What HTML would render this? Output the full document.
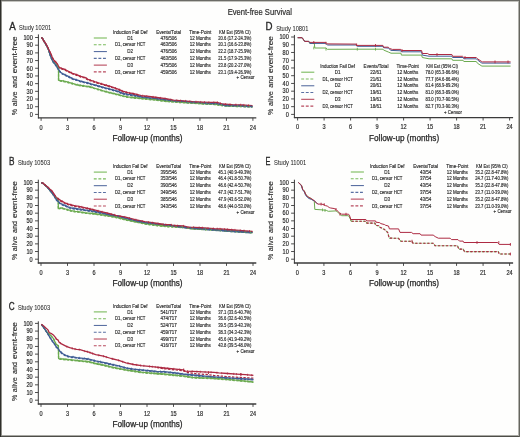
<!DOCTYPE html>
<html><head><meta charset="utf-8"><style>
html,body{margin:0;padding:0;background:#fff;}
body{width:520px;height:437px;overflow:hidden;}
svg{display:block;will-change:transform;}
text{font-family:"Liberation Sans", sans-serif;}
</style></head><body>
<svg width="520" height="437" viewBox="0 0 520 437">
<rect x="0" y="0" width="520" height="437" fill="#fefefd"/>
<text x="9.30" y="29.80" font-size="10.0" text-anchor="start" fill="#2a2a2a" textLength="6.5" lengthAdjust="spacingAndGlyphs" stroke="#222" stroke-width="0.3">A</text>
<text x="19.10" y="30.20" font-size="6.6" text-anchor="start" fill="#2a2a2a" textLength="32.2" lengthAdjust="spacingAndGlyphs" stroke="#2a2a2a" stroke-width="0.05">Study 10201</text>
<text x="0" y="0" font-size="8.0" text-anchor="middle" fill="#2a2a2a" stroke="#2a2a2a" stroke-width="0.14" textLength="6.2" lengthAdjust="spacingAndGlyphs" transform="translate(17.10,112.10) rotate(-90)">%</text>
<text x="0" y="0" font-size="8.0" text-anchor="middle" fill="#2a2a2a" stroke="#2a2a2a" stroke-width="0.14" textLength="14.9" lengthAdjust="spacingAndGlyphs" transform="translate(17.10,98.85) rotate(-90)">alive</text>
<text x="0" y="0" font-size="8.0" text-anchor="middle" fill="#2a2a2a" stroke="#2a2a2a" stroke-width="0.14" textLength="12.1" lengthAdjust="spacingAndGlyphs" transform="translate(17.10,82.05) rotate(-90)">and</text>
<text x="0" y="0" font-size="8.0" text-anchor="middle" fill="#2a2a2a" stroke="#2a2a2a" stroke-width="0.14" textLength="36.8" lengthAdjust="spacingAndGlyphs" transform="translate(17.10,54.80) rotate(-90)">event-free</text>
<line x1="38.40" y1="34.40" x2="38.40" y2="118.40" stroke="#3a3a3a" stroke-width="1.0"/>
<line x1="37.90" y1="117.90" x2="256.30" y2="117.90" stroke="#3a3a3a" stroke-width="1.4"/>
<line x1="35.10" y1="114.40" x2="38.40" y2="114.40" stroke="#3a3a3a" stroke-width="0.9"/>
<text x="32.80" y="116.70" font-size="6.5" text-anchor="end" fill="#2a2a2a" textLength="3.1" lengthAdjust="spacingAndGlyphs" stroke="#2a2a2a" stroke-width="0.18">0</text>
<line x1="35.10" y1="106.71" x2="38.40" y2="106.71" stroke="#3a3a3a" stroke-width="0.9"/>
<text x="32.80" y="109.01" font-size="6.5" text-anchor="end" fill="#2a2a2a" textLength="6.2" lengthAdjust="spacingAndGlyphs" stroke="#2a2a2a" stroke-width="0.18">10</text>
<line x1="35.10" y1="99.02" x2="38.40" y2="99.02" stroke="#3a3a3a" stroke-width="0.9"/>
<text x="32.80" y="101.32" font-size="6.5" text-anchor="end" fill="#2a2a2a" textLength="6.2" lengthAdjust="spacingAndGlyphs" stroke="#2a2a2a" stroke-width="0.18">20</text>
<line x1="35.10" y1="91.33" x2="38.40" y2="91.33" stroke="#3a3a3a" stroke-width="0.9"/>
<text x="32.80" y="93.63" font-size="6.5" text-anchor="end" fill="#2a2a2a" textLength="6.2" lengthAdjust="spacingAndGlyphs" stroke="#2a2a2a" stroke-width="0.18">30</text>
<line x1="35.10" y1="83.64" x2="38.40" y2="83.64" stroke="#3a3a3a" stroke-width="0.9"/>
<text x="32.80" y="85.94" font-size="6.5" text-anchor="end" fill="#2a2a2a" textLength="6.2" lengthAdjust="spacingAndGlyphs" stroke="#2a2a2a" stroke-width="0.18">40</text>
<line x1="35.10" y1="75.95" x2="38.40" y2="75.95" stroke="#3a3a3a" stroke-width="0.9"/>
<text x="32.80" y="78.25" font-size="6.5" text-anchor="end" fill="#2a2a2a" textLength="6.2" lengthAdjust="spacingAndGlyphs" stroke="#2a2a2a" stroke-width="0.18">50</text>
<line x1="35.10" y1="68.26" x2="38.40" y2="68.26" stroke="#3a3a3a" stroke-width="0.9"/>
<text x="32.80" y="70.56" font-size="6.5" text-anchor="end" fill="#2a2a2a" textLength="6.2" lengthAdjust="spacingAndGlyphs" stroke="#2a2a2a" stroke-width="0.18">60</text>
<line x1="35.10" y1="60.57" x2="38.40" y2="60.57" stroke="#3a3a3a" stroke-width="0.9"/>
<text x="32.80" y="62.87" font-size="6.5" text-anchor="end" fill="#2a2a2a" textLength="6.2" lengthAdjust="spacingAndGlyphs" stroke="#2a2a2a" stroke-width="0.18">70</text>
<line x1="35.10" y1="52.88" x2="38.40" y2="52.88" stroke="#3a3a3a" stroke-width="0.9"/>
<text x="32.80" y="55.18" font-size="6.5" text-anchor="end" fill="#2a2a2a" textLength="6.2" lengthAdjust="spacingAndGlyphs" stroke="#2a2a2a" stroke-width="0.18">80</text>
<line x1="35.10" y1="45.19" x2="38.40" y2="45.19" stroke="#3a3a3a" stroke-width="0.9"/>
<text x="32.80" y="47.49" font-size="6.5" text-anchor="end" fill="#2a2a2a" textLength="6.2" lengthAdjust="spacingAndGlyphs" stroke="#2a2a2a" stroke-width="0.18">90</text>
<line x1="35.10" y1="37.50" x2="38.40" y2="37.50" stroke="#3a3a3a" stroke-width="0.9"/>
<text x="32.80" y="39.80" font-size="6.5" text-anchor="end" fill="#2a2a2a" textLength="9.3" lengthAdjust="spacingAndGlyphs" stroke="#2a2a2a" stroke-width="0.18">100</text>
<line x1="41.10" y1="117.90" x2="41.10" y2="120.80" stroke="#3a3a3a" stroke-width="0.9"/>
<text x="41.10" y="129.60" font-size="6.5" text-anchor="middle" fill="#2a2a2a" textLength="3.1" lengthAdjust="spacingAndGlyphs" stroke="#2a2a2a" stroke-width="0.18">0</text>
<line x1="67.58" y1="117.90" x2="67.58" y2="120.80" stroke="#3a3a3a" stroke-width="0.9"/>
<text x="67.58" y="129.60" font-size="6.5" text-anchor="middle" fill="#2a2a2a" textLength="3.1" lengthAdjust="spacingAndGlyphs" stroke="#2a2a2a" stroke-width="0.18">3</text>
<line x1="94.05" y1="117.90" x2="94.05" y2="120.80" stroke="#3a3a3a" stroke-width="0.9"/>
<text x="94.05" y="129.60" font-size="6.5" text-anchor="middle" fill="#2a2a2a" textLength="3.1" lengthAdjust="spacingAndGlyphs" stroke="#2a2a2a" stroke-width="0.18">6</text>
<line x1="120.53" y1="117.90" x2="120.53" y2="120.80" stroke="#3a3a3a" stroke-width="0.9"/>
<text x="120.53" y="129.60" font-size="6.5" text-anchor="middle" fill="#2a2a2a" textLength="3.1" lengthAdjust="spacingAndGlyphs" stroke="#2a2a2a" stroke-width="0.18">9</text>
<line x1="147.00" y1="117.90" x2="147.00" y2="120.80" stroke="#3a3a3a" stroke-width="0.9"/>
<text x="147.00" y="129.60" font-size="6.5" text-anchor="middle" fill="#2a2a2a" textLength="6.2" lengthAdjust="spacingAndGlyphs" stroke="#2a2a2a" stroke-width="0.18">12</text>
<line x1="173.47" y1="117.90" x2="173.47" y2="120.80" stroke="#3a3a3a" stroke-width="0.9"/>
<text x="173.47" y="129.60" font-size="6.5" text-anchor="middle" fill="#2a2a2a" textLength="6.2" lengthAdjust="spacingAndGlyphs" stroke="#2a2a2a" stroke-width="0.18">15</text>
<line x1="199.95" y1="117.90" x2="199.95" y2="120.80" stroke="#3a3a3a" stroke-width="0.9"/>
<text x="199.95" y="129.60" font-size="6.5" text-anchor="middle" fill="#2a2a2a" textLength="6.2" lengthAdjust="spacingAndGlyphs" stroke="#2a2a2a" stroke-width="0.18">18</text>
<line x1="226.43" y1="117.90" x2="226.43" y2="120.80" stroke="#3a3a3a" stroke-width="0.9"/>
<text x="226.43" y="129.60" font-size="6.5" text-anchor="middle" fill="#2a2a2a" textLength="6.2" lengthAdjust="spacingAndGlyphs" stroke="#2a2a2a" stroke-width="0.18">21</text>
<line x1="252.90" y1="117.90" x2="252.90" y2="120.80" stroke="#3a3a3a" stroke-width="0.9"/>
<text x="252.90" y="129.60" font-size="6.5" text-anchor="middle" fill="#2a2a2a" textLength="6.2" lengthAdjust="spacingAndGlyphs" stroke="#2a2a2a" stroke-width="0.18">24</text>
<text x="147.50" y="140.80" font-size="8.6" text-anchor="middle" fill="#2a2a2a" textLength="70.2" lengthAdjust="spacingAndGlyphs" stroke="#222" stroke-width="0.25">Follow-up (months)</text>
<path d="M41.40,37.40 L42.70,38.90 L44.80,42.62 L46.90,46.29 L48.90,50.75 L49.70,53.38 L51.40,58.03 L53.10,61.78 L55.40,64.16 L57.20,66.31 L58.55,67.75 L58.55,80.65 L60.10,81.00 L62.90,81.40 L66.30,82.10 L69.70,83.10 L73.20,84.10 L76.60,85.10 L80.70,85.80 L84.80,86.50 L88.00,86.90 L91.00,87.50 L95.70,89.00 L103.40,91.30 L111.10,93.30 L118.80,95.20 L122.60,96.30 L128.00,97.40 L133.70,98.00 L141.40,98.80 L149.10,99.60 L156.80,100.30 L166.00,101.50 L173.60,102.10 L183.20,102.80 L192.80,103.30 L202.50,104.00 L214.00,104.50 L225.90,106.20 L236.50,106.50 L252.50,107.00" fill="none" stroke="#6cab50" stroke-width="1.3" stroke-linejoin="round" stroke-dasharray="2.4,1.4"/>
<path d="M41.40,37.40 L42.70,38.90 L44.80,42.63 L46.90,46.31 L48.90,50.78 L49.70,53.91 L51.40,58.58 L53.10,62.04 L55.40,65.03 L56.50,66.47 L58.00,69.12 L59.40,71.18 L60.50,72.80 L62.50,74.10 L66.30,76.00 L69.70,77.70 L73.20,79.40 L76.60,80.40 L80.70,81.80 L84.80,82.80 L88.00,83.50 L91.00,84.60 L95.70,85.70 L103.40,88.00 L111.10,89.90 L118.80,92.20 L122.60,93.90 L128.00,95.00 L133.70,95.80 L141.40,97.40 L149.10,98.50 L156.80,99.30 L166.00,100.40 L173.60,101.40 L183.20,102.00 L192.80,102.80 L202.50,103.40 L210.00,104.00 L217.10,104.20 L225.90,105.90 L236.50,106.20 L252.50,106.90" fill="none" stroke="#3f5c95" stroke-width="1.3" stroke-linejoin="round" stroke-dasharray="2.4,1.4"/>
<path d="M41.40,37.40 L42.70,38.70 L43.40,40.50 L44.80,42.23 L46.90,45.71 L48.90,49.88 L50.30,52.84 L52.00,56.90 L53.70,60.36 L56.00,62.65 L57.40,64.60 L58.70,67.35 L60.80,68.80 L64.20,69.80 L68.40,71.90 L72.50,73.90 L76.60,75.30 L80.70,77.00 L84.80,78.00 L88.00,79.90 L91.00,81.00 L95.70,82.60 L103.40,84.90 L111.10,87.20 L118.80,89.90 L122.60,91.80 L128.00,93.30 L133.70,94.30 L141.40,96.20 L149.10,97.00 L156.80,98.10 L166.00,99.30 L173.60,100.80 L183.20,101.40 L192.80,102.20 L202.50,102.70 L210.00,103.00 L217.10,103.00 L222.40,104.60 L232.10,105.20 L241.00,105.40 L252.50,106.30" fill="none" stroke="#ad2a42" stroke-width="1.3" stroke-linejoin="round" stroke-dasharray="2.4,1.4"/>
<path d="M41.40,37.40 L42.70,38.90 L44.80,42.60 L46.90,46.20 L48.90,50.60 L49.70,53.20 L51.40,57.80 L53.10,61.50 L55.40,63.80 L57.20,65.90 L58.55,67.30 L58.55,80.20 L60.10,80.50 L62.90,80.90 L66.30,81.60 L69.70,82.60 L73.20,83.60 L76.60,84.60 L80.70,85.30 L84.80,86.00 L88.00,86.40 L91.00,87.00 L95.70,88.50 L103.40,90.80 L111.10,92.80 L118.80,94.70 L122.60,95.80 L128.00,96.90 L133.70,97.50 L141.40,98.30 L149.10,99.10 L156.80,99.80 L166.00,101.00 L173.60,101.60 L183.20,102.30 L192.80,102.80 L202.50,103.50 L214.00,104.00 L225.90,105.70 L236.50,106.00 L252.50,106.50" fill="none" stroke="#6cab50" stroke-width="1.3" stroke-linejoin="round"/>
<path d="M41.40,37.40 L42.70,38.90 L44.80,42.60 L46.90,46.20 L48.90,50.60 L49.70,53.70 L51.40,58.30 L53.10,61.70 L55.40,64.60 L56.50,66.00 L58.00,68.60 L59.40,70.60 L60.50,72.20 L62.50,73.50 L66.30,75.40 L69.70,77.10 L73.20,78.80 L76.60,79.80 L80.70,81.20 L84.80,82.20 L88.00,82.90 L91.00,84.00 L95.70,85.10 L103.40,87.40 L111.10,89.30 L118.80,91.60 L122.60,93.30 L128.00,94.40 L133.70,95.20 L141.40,96.80 L149.10,97.90 L156.80,98.70 L166.00,99.80 L173.60,100.80 L183.20,101.40 L192.80,102.20 L202.50,102.80 L210.00,103.40 L217.10,103.60 L225.90,105.30 L236.50,105.60 L252.50,106.30" fill="none" stroke="#3f5c95" stroke-width="1.3" stroke-linejoin="round"/>
<path d="M41.40,37.40 L42.70,38.70 L43.40,40.50 L44.80,42.20 L46.90,45.60 L48.90,49.70 L50.30,52.60 L52.00,56.60 L53.70,60.00 L56.00,62.20 L57.40,64.10 L58.70,66.80 L60.80,68.20 L64.20,69.20 L68.40,71.30 L72.50,73.30 L76.60,74.70 L80.70,76.40 L84.80,77.40 L88.00,79.30 L91.00,80.40 L95.70,82.00 L103.40,84.30 L111.10,86.60 L118.80,89.30 L122.60,91.20 L128.00,92.70 L133.70,93.70 L141.40,95.60 L149.10,96.40 L156.80,97.50 L166.00,98.70 L173.60,100.20 L183.20,100.80 L192.80,101.60 L202.50,102.10 L210.00,102.40 L217.10,102.40 L222.40,104.00 L232.10,104.60 L241.00,104.80 L252.50,105.70" fill="none" stroke="#ad2a42" stroke-width="1.3" stroke-linejoin="round"/>
<line x1="57.33" y1="64.94" x2="57.33" y2="67.14" stroke="#6cab50" stroke-width="0.7"/>
<line x1="63.47" y1="79.92" x2="63.47" y2="82.12" stroke="#6cab50" stroke-width="0.7"/>
<line x1="68.25" y1="81.07" x2="68.25" y2="83.27" stroke="#6cab50" stroke-width="0.7"/>
<line x1="72.20" y1="82.21" x2="72.20" y2="84.41" stroke="#6cab50" stroke-width="0.7"/>
<line x1="77.53" y1="83.66" x2="77.53" y2="85.86" stroke="#6cab50" stroke-width="0.7"/>
<line x1="80.28" y1="84.13" x2="80.28" y2="86.33" stroke="#6cab50" stroke-width="0.7"/>
<line x1="83.39" y1="84.66" x2="83.39" y2="86.86" stroke="#6cab50" stroke-width="0.7"/>
<line x1="89.01" y1="85.50" x2="89.01" y2="87.70" stroke="#6cab50" stroke-width="0.7"/>
<line x1="92.22" y1="86.29" x2="92.22" y2="88.49" stroke="#6cab50" stroke-width="0.7"/>
<line x1="98.02" y1="88.09" x2="98.02" y2="90.29" stroke="#6cab50" stroke-width="0.7"/>
<line x1="100.93" y1="88.96" x2="100.93" y2="91.16" stroke="#6cab50" stroke-width="0.7"/>
<line x1="106.44" y1="90.49" x2="106.44" y2="92.69" stroke="#6cab50" stroke-width="0.7"/>
<line x1="110.81" y1="91.62" x2="110.81" y2="93.82" stroke="#6cab50" stroke-width="0.7"/>
<line x1="114.09" y1="92.44" x2="114.09" y2="94.64" stroke="#6cab50" stroke-width="0.7"/>
<line x1="118.42" y1="93.51" x2="118.42" y2="95.71" stroke="#6cab50" stroke-width="0.7"/>
<line x1="123.27" y1="94.84" x2="123.27" y2="97.04" stroke="#6cab50" stroke-width="0.7"/>
<line x1="126.25" y1="95.44" x2="126.25" y2="97.64" stroke="#6cab50" stroke-width="0.7"/>
<line x1="132.14" y1="96.24" x2="132.14" y2="98.44" stroke="#6cab50" stroke-width="0.7"/>
<line x1="135.09" y1="96.54" x2="135.09" y2="98.74" stroke="#6cab50" stroke-width="0.7"/>
<line x1="140.18" y1="97.07" x2="140.18" y2="99.27" stroke="#6cab50" stroke-width="0.7"/>
<line x1="145.34" y1="97.61" x2="145.34" y2="99.81" stroke="#6cab50" stroke-width="0.7"/>
<line x1="151.18" y1="98.19" x2="151.18" y2="100.39" stroke="#6cab50" stroke-width="0.7"/>
<line x1="156.23" y1="98.65" x2="156.23" y2="100.85" stroke="#6cab50" stroke-width="0.7"/>
<line x1="162.03" y1="99.38" x2="162.03" y2="101.58" stroke="#6cab50" stroke-width="0.7"/>
<line x1="166.78" y1="99.96" x2="166.78" y2="102.16" stroke="#6cab50" stroke-width="0.7"/>
<line x1="171.64" y1="100.34" x2="171.64" y2="102.54" stroke="#6cab50" stroke-width="0.7"/>
<line x1="176.19" y1="100.69" x2="176.19" y2="102.89" stroke="#6cab50" stroke-width="0.7"/>
<line x1="180.35" y1="100.99" x2="180.35" y2="103.19" stroke="#6cab50" stroke-width="0.7"/>
<line x1="185.96" y1="101.34" x2="185.96" y2="103.54" stroke="#6cab50" stroke-width="0.7"/>
<line x1="190.25" y1="101.57" x2="190.25" y2="103.77" stroke="#6cab50" stroke-width="0.7"/>
<line x1="193.78" y1="101.77" x2="193.78" y2="103.97" stroke="#6cab50" stroke-width="0.7"/>
<line x1="198.16" y1="102.09" x2="198.16" y2="104.29" stroke="#6cab50" stroke-width="0.7"/>
<line x1="201.34" y1="102.32" x2="201.34" y2="104.52" stroke="#6cab50" stroke-width="0.7"/>
<line x1="206.21" y1="102.56" x2="206.21" y2="104.76" stroke="#6cab50" stroke-width="0.7"/>
<line x1="209.71" y1="102.71" x2="209.71" y2="104.91" stroke="#6cab50" stroke-width="0.7"/>
<line x1="215.38" y1="103.10" x2="215.38" y2="105.30" stroke="#6cab50" stroke-width="0.7"/>
<line x1="221.37" y1="103.95" x2="221.37" y2="106.15" stroke="#6cab50" stroke-width="0.7"/>
<line x1="227.62" y1="104.65" x2="227.62" y2="106.85" stroke="#6cab50" stroke-width="0.7"/>
<line x1="231.75" y1="104.77" x2="231.75" y2="106.97" stroke="#6cab50" stroke-width="0.7"/>
<line x1="237.71" y1="104.94" x2="237.71" y2="107.14" stroke="#6cab50" stroke-width="0.7"/>
<line x1="240.63" y1="105.03" x2="240.63" y2="107.23" stroke="#6cab50" stroke-width="0.7"/>
<line x1="245.00" y1="105.17" x2="245.00" y2="107.37" stroke="#6cab50" stroke-width="0.7"/>
<line x1="249.24" y1="105.30" x2="249.24" y2="107.50" stroke="#6cab50" stroke-width="0.7"/>
<line x1="56.75" y1="65.34" x2="56.75" y2="67.54" stroke="#3f5c95" stroke-width="0.7"/>
<line x1="60.38" y1="70.93" x2="60.38" y2="73.13" stroke="#3f5c95" stroke-width="0.7"/>
<line x1="65.12" y1="73.71" x2="65.12" y2="75.91" stroke="#3f5c95" stroke-width="0.7"/>
<line x1="69.25" y1="75.77" x2="69.25" y2="77.97" stroke="#3f5c95" stroke-width="0.7"/>
<line x1="71.76" y1="77.00" x2="71.76" y2="79.20" stroke="#3f5c95" stroke-width="0.7"/>
<line x1="76.17" y1="78.57" x2="76.17" y2="80.77" stroke="#3f5c95" stroke-width="0.7"/>
<line x1="81.78" y1="80.36" x2="81.78" y2="82.56" stroke="#3f5c95" stroke-width="0.7"/>
<line x1="87.75" y1="81.75" x2="87.75" y2="83.95" stroke="#3f5c95" stroke-width="0.7"/>
<line x1="90.43" y1="82.69" x2="90.43" y2="84.89" stroke="#3f5c95" stroke-width="0.7"/>
<line x1="96.09" y1="84.12" x2="96.09" y2="86.32" stroke="#3f5c95" stroke-width="0.7"/>
<line x1="99.44" y1="85.12" x2="99.44" y2="87.32" stroke="#3f5c95" stroke-width="0.7"/>
<line x1="103.05" y1="86.19" x2="103.05" y2="88.39" stroke="#3f5c95" stroke-width="0.7"/>
<line x1="108.94" y1="87.67" x2="108.94" y2="89.87" stroke="#3f5c95" stroke-width="0.7"/>
<line x1="113.11" y1="88.80" x2="113.11" y2="91.00" stroke="#3f5c95" stroke-width="0.7"/>
<line x1="117.87" y1="90.22" x2="117.87" y2="92.42" stroke="#3f5c95" stroke-width="0.7"/>
<line x1="121.09" y1="91.53" x2="121.09" y2="93.73" stroke="#3f5c95" stroke-width="0.7"/>
<line x1="123.70" y1="92.42" x2="123.70" y2="94.62" stroke="#3f5c95" stroke-width="0.7"/>
<line x1="126.49" y1="92.99" x2="126.49" y2="95.19" stroke="#3f5c95" stroke-width="0.7"/>
<line x1="131.83" y1="93.84" x2="131.83" y2="96.04" stroke="#3f5c95" stroke-width="0.7"/>
<line x1="137.35" y1="94.86" x2="137.35" y2="97.06" stroke="#3f5c95" stroke-width="0.7"/>
<line x1="140.09" y1="95.43" x2="140.09" y2="97.63" stroke="#3f5c95" stroke-width="0.7"/>
<line x1="146.05" y1="96.36" x2="146.05" y2="98.56" stroke="#3f5c95" stroke-width="0.7"/>
<line x1="150.64" y1="96.96" x2="150.64" y2="99.16" stroke="#3f5c95" stroke-width="0.7"/>
<line x1="157.06" y1="97.63" x2="157.06" y2="99.83" stroke="#3f5c95" stroke-width="0.7"/>
<line x1="160.27" y1="98.02" x2="160.27" y2="100.22" stroke="#3f5c95" stroke-width="0.7"/>
<line x1="165.12" y1="98.60" x2="165.12" y2="100.80" stroke="#3f5c95" stroke-width="0.7"/>
<line x1="170.30" y1="99.27" x2="170.30" y2="101.47" stroke="#3f5c95" stroke-width="0.7"/>
<line x1="175.89" y1="99.84" x2="175.89" y2="102.04" stroke="#3f5c95" stroke-width="0.7"/>
<line x1="181.58" y1="100.20" x2="181.58" y2="102.40" stroke="#3f5c95" stroke-width="0.7"/>
<line x1="186.43" y1="100.57" x2="186.43" y2="102.77" stroke="#3f5c95" stroke-width="0.7"/>
<line x1="190.82" y1="100.93" x2="190.82" y2="103.13" stroke="#3f5c95" stroke-width="0.7"/>
<line x1="194.03" y1="101.18" x2="194.03" y2="103.38" stroke="#3f5c95" stroke-width="0.7"/>
<line x1="200.19" y1="101.56" x2="200.19" y2="103.76" stroke="#3f5c95" stroke-width="0.7"/>
<line x1="205.60" y1="101.95" x2="205.60" y2="104.15" stroke="#3f5c95" stroke-width="0.7"/>
<line x1="208.74" y1="102.20" x2="208.74" y2="104.40" stroke="#3f5c95" stroke-width="0.7"/>
<line x1="213.68" y1="102.40" x2="213.68" y2="104.60" stroke="#3f5c95" stroke-width="0.7"/>
<line x1="219.26" y1="102.92" x2="219.26" y2="105.12" stroke="#3f5c95" stroke-width="0.7"/>
<line x1="222.58" y1="103.56" x2="222.58" y2="105.76" stroke="#3f5c95" stroke-width="0.7"/>
<line x1="227.34" y1="104.24" x2="227.34" y2="106.44" stroke="#3f5c95" stroke-width="0.7"/>
<line x1="233.02" y1="104.40" x2="233.02" y2="106.60" stroke="#3f5c95" stroke-width="0.7"/>
<line x1="235.91" y1="104.48" x2="235.91" y2="106.68" stroke="#3f5c95" stroke-width="0.7"/>
<line x1="238.99" y1="104.61" x2="238.99" y2="106.81" stroke="#3f5c95" stroke-width="0.7"/>
<line x1="242.73" y1="104.77" x2="242.73" y2="106.97" stroke="#3f5c95" stroke-width="0.7"/>
<line x1="246.49" y1="104.94" x2="246.49" y2="107.14" stroke="#3f5c95" stroke-width="0.7"/>
<line x1="250.89" y1="105.13" x2="250.89" y2="107.33" stroke="#3f5c95" stroke-width="0.7"/>
<line x1="55.70" y1="60.82" x2="55.70" y2="63.02" stroke="#ad2a42" stroke-width="0.7"/>
<line x1="61.25" y1="67.23" x2="61.25" y2="69.43" stroke="#ad2a42" stroke-width="0.7"/>
<line x1="65.36" y1="68.68" x2="65.36" y2="70.88" stroke="#ad2a42" stroke-width="0.7"/>
<line x1="71.39" y1="71.66" x2="71.39" y2="73.86" stroke="#ad2a42" stroke-width="0.7"/>
<line x1="76.73" y1="73.66" x2="76.73" y2="75.86" stroke="#ad2a42" stroke-width="0.7"/>
<line x1="80.65" y1="75.28" x2="80.65" y2="77.48" stroke="#ad2a42" stroke-width="0.7"/>
<line x1="86.59" y1="77.37" x2="86.59" y2="79.57" stroke="#ad2a42" stroke-width="0.7"/>
<line x1="90.15" y1="78.99" x2="90.15" y2="81.19" stroke="#ad2a42" stroke-width="0.7"/>
<line x1="93.70" y1="80.22" x2="93.70" y2="82.42" stroke="#ad2a42" stroke-width="0.7"/>
<line x1="96.70" y1="81.20" x2="96.70" y2="83.40" stroke="#ad2a42" stroke-width="0.7"/>
<line x1="101.66" y1="82.68" x2="101.66" y2="84.88" stroke="#ad2a42" stroke-width="0.7"/>
<line x1="106.52" y1="84.13" x2="106.52" y2="86.33" stroke="#ad2a42" stroke-width="0.7"/>
<line x1="109.36" y1="84.98" x2="109.36" y2="87.18" stroke="#ad2a42" stroke-width="0.7"/>
<line x1="115.49" y1="87.04" x2="115.49" y2="89.24" stroke="#ad2a42" stroke-width="0.7"/>
<line x1="119.63" y1="88.62" x2="119.63" y2="90.82" stroke="#ad2a42" stroke-width="0.7"/>
<line x1="122.27" y1="89.93" x2="122.27" y2="92.13" stroke="#ad2a42" stroke-width="0.7"/>
<line x1="126.32" y1="91.13" x2="126.32" y2="93.33" stroke="#ad2a42" stroke-width="0.7"/>
<line x1="129.29" y1="91.83" x2="129.29" y2="94.03" stroke="#ad2a42" stroke-width="0.7"/>
<line x1="133.05" y1="92.49" x2="133.05" y2="94.69" stroke="#ad2a42" stroke-width="0.7"/>
<line x1="136.99" y1="93.41" x2="136.99" y2="95.61" stroke="#ad2a42" stroke-width="0.7"/>
<line x1="142.71" y1="94.64" x2="142.71" y2="96.84" stroke="#ad2a42" stroke-width="0.7"/>
<line x1="146.77" y1="95.06" x2="146.77" y2="97.26" stroke="#ad2a42" stroke-width="0.7"/>
<line x1="153.12" y1="95.87" x2="153.12" y2="98.07" stroke="#ad2a42" stroke-width="0.7"/>
<line x1="155.87" y1="96.27" x2="155.87" y2="98.47" stroke="#ad2a42" stroke-width="0.7"/>
<line x1="160.57" y1="96.89" x2="160.57" y2="99.09" stroke="#ad2a42" stroke-width="0.7"/>
<line x1="165.05" y1="97.48" x2="165.05" y2="99.68" stroke="#ad2a42" stroke-width="0.7"/>
<line x1="170.80" y1="98.55" x2="170.80" y2="100.75" stroke="#ad2a42" stroke-width="0.7"/>
<line x1="176.79" y1="99.30" x2="176.79" y2="101.50" stroke="#ad2a42" stroke-width="0.7"/>
<line x1="180.61" y1="99.54" x2="180.61" y2="101.74" stroke="#ad2a42" stroke-width="0.7"/>
<line x1="185.55" y1="99.90" x2="185.55" y2="102.10" stroke="#ad2a42" stroke-width="0.7"/>
<line x1="189.85" y1="100.25" x2="189.85" y2="102.45" stroke="#ad2a42" stroke-width="0.7"/>
<line x1="195.95" y1="100.66" x2="195.95" y2="102.86" stroke="#ad2a42" stroke-width="0.7"/>
<line x1="200.77" y1="100.91" x2="200.77" y2="103.11" stroke="#ad2a42" stroke-width="0.7"/>
<line x1="204.49" y1="101.08" x2="204.49" y2="103.28" stroke="#ad2a42" stroke-width="0.7"/>
<line x1="208.87" y1="101.25" x2="208.87" y2="103.45" stroke="#ad2a42" stroke-width="0.7"/>
<line x1="213.81" y1="101.30" x2="213.81" y2="103.50" stroke="#ad2a42" stroke-width="0.7"/>
<line x1="217.51" y1="101.42" x2="217.51" y2="103.62" stroke="#ad2a42" stroke-width="0.7"/>
<line x1="220.49" y1="102.32" x2="220.49" y2="104.52" stroke="#ad2a42" stroke-width="0.7"/>
<line x1="225.55" y1="103.09" x2="225.55" y2="105.29" stroke="#ad2a42" stroke-width="0.7"/>
<line x1="230.01" y1="103.37" x2="230.01" y2="105.57" stroke="#ad2a42" stroke-width="0.7"/>
<line x1="235.87" y1="103.58" x2="235.87" y2="105.78" stroke="#ad2a42" stroke-width="0.7"/>
<line x1="240.67" y1="103.69" x2="240.67" y2="105.89" stroke="#ad2a42" stroke-width="0.7"/>
<line x1="243.89" y1="103.93" x2="243.89" y2="106.13" stroke="#ad2a42" stroke-width="0.7"/>
<line x1="248.59" y1="104.29" x2="248.59" y2="106.49" stroke="#ad2a42" stroke-width="0.7"/>
<text x="130.20" y="33.80" font-size="4.5" text-anchor="middle" fill="#2a2a2a" textLength="34.6" lengthAdjust="spacingAndGlyphs" stroke="#2a2a2a" stroke-width="0.14">Induction Fail Def</text>
<text x="168.60" y="33.80" font-size="4.5" text-anchor="middle" fill="#2a2a2a" textLength="24.8" lengthAdjust="spacingAndGlyphs" stroke="#2a2a2a" stroke-width="0.14">Events/Total</text>
<text x="200.30" y="33.80" font-size="4.5" text-anchor="middle" fill="#2a2a2a" textLength="22.2" lengthAdjust="spacingAndGlyphs" stroke="#2a2a2a" stroke-width="0.14">Time-Point</text>
<text x="234.80" y="33.80" font-size="4.5" text-anchor="middle" fill="#2a2a2a" textLength="31.7" lengthAdjust="spacingAndGlyphs" stroke="#2a2a2a" stroke-width="0.14">KM Est (95% CI)</text>
<line x1="93.80" y1="38.00" x2="106.90" y2="38.00" stroke="#7aba5c" stroke-width="1.1"/>
<text x="130.20" y="39.60" font-size="4.5" text-anchor="middle" fill="#2a2a2a" stroke="#2a2a2a" stroke-width="0.14">D1</text>
<text x="168.60" y="39.60" font-size="4.5" text-anchor="middle" fill="#2a2a2a" stroke="#2a2a2a" stroke-width="0.14">476/506</text>
<text x="200.30" y="39.60" font-size="4.5" text-anchor="middle" fill="#2a2a2a" textLength="21.1" lengthAdjust="spacingAndGlyphs" stroke="#2a2a2a" stroke-width="0.14">12 Months</text>
<text x="234.80" y="39.60" font-size="4.5" text-anchor="middle" fill="#2a2a2a" textLength="33.2" lengthAdjust="spacingAndGlyphs" stroke="#2a2a2a" stroke-width="0.14">20.6 (17.2-24.3%)</text>
<line x1="93.80" y1="44.78" x2="106.90" y2="44.78" stroke="#7aba5c" stroke-width="1.1" stroke-dasharray="2.9,1.7"/>
<text x="130.20" y="46.38" font-size="4.5" text-anchor="middle" fill="#2a2a2a" textLength="30.4" lengthAdjust="spacingAndGlyphs" stroke="#2a2a2a" stroke-width="0.14">D1, censor HCT</text>
<text x="168.60" y="46.38" font-size="4.5" text-anchor="middle" fill="#2a2a2a" stroke="#2a2a2a" stroke-width="0.14">463/506</text>
<text x="200.30" y="46.38" font-size="4.5" text-anchor="middle" fill="#2a2a2a" textLength="21.1" lengthAdjust="spacingAndGlyphs" stroke="#2a2a2a" stroke-width="0.14">12 Months</text>
<text x="234.80" y="46.38" font-size="4.5" text-anchor="middle" fill="#2a2a2a" textLength="33.2" lengthAdjust="spacingAndGlyphs" stroke="#2a2a2a" stroke-width="0.14">20.1 (16.6-23.8%)</text>
<line x1="93.80" y1="51.56" x2="106.90" y2="51.56" stroke="#5a70a2" stroke-width="1.1"/>
<text x="130.20" y="53.16" font-size="4.5" text-anchor="middle" fill="#2a2a2a" stroke="#2a2a2a" stroke-width="0.14">D2</text>
<text x="168.60" y="53.16" font-size="4.5" text-anchor="middle" fill="#2a2a2a" stroke="#2a2a2a" stroke-width="0.14">476/506</text>
<text x="200.30" y="53.16" font-size="4.5" text-anchor="middle" fill="#2a2a2a" textLength="21.1" lengthAdjust="spacingAndGlyphs" stroke="#2a2a2a" stroke-width="0.14">12 Months</text>
<text x="234.80" y="53.16" font-size="4.5" text-anchor="middle" fill="#2a2a2a" textLength="33.2" lengthAdjust="spacingAndGlyphs" stroke="#2a2a2a" stroke-width="0.14">22.2 (18.7-25.9%)</text>
<line x1="93.80" y1="58.34" x2="106.90" y2="58.34" stroke="#5a70a2" stroke-width="1.1" stroke-dasharray="2.9,1.7"/>
<text x="130.20" y="59.94" font-size="4.5" text-anchor="middle" fill="#2a2a2a" textLength="30.4" lengthAdjust="spacingAndGlyphs" stroke="#2a2a2a" stroke-width="0.14">D2, censor HCT</text>
<text x="168.60" y="59.94" font-size="4.5" text-anchor="middle" fill="#2a2a2a" stroke="#2a2a2a" stroke-width="0.14">463/506</text>
<text x="200.30" y="59.94" font-size="4.5" text-anchor="middle" fill="#2a2a2a" textLength="21.1" lengthAdjust="spacingAndGlyphs" stroke="#2a2a2a" stroke-width="0.14">12 Months</text>
<text x="234.80" y="59.94" font-size="4.5" text-anchor="middle" fill="#2a2a2a" textLength="33.2" lengthAdjust="spacingAndGlyphs" stroke="#2a2a2a" stroke-width="0.14">21.5 (17.9-25.3%)</text>
<line x1="93.80" y1="65.12" x2="106.90" y2="65.12" stroke="#b84a5e" stroke-width="1.1"/>
<text x="130.20" y="66.72" font-size="4.5" text-anchor="middle" fill="#2a2a2a" stroke="#2a2a2a" stroke-width="0.14">D3</text>
<text x="168.60" y="66.72" font-size="4.5" text-anchor="middle" fill="#2a2a2a" stroke="#2a2a2a" stroke-width="0.14">475/506</text>
<text x="200.30" y="66.72" font-size="4.5" text-anchor="middle" fill="#2a2a2a" textLength="21.1" lengthAdjust="spacingAndGlyphs" stroke="#2a2a2a" stroke-width="0.14">12 Months</text>
<text x="234.80" y="66.72" font-size="4.5" text-anchor="middle" fill="#2a2a2a" textLength="33.2" lengthAdjust="spacingAndGlyphs" stroke="#2a2a2a" stroke-width="0.14">23.8 (20.2-27.0%)</text>
<line x1="93.80" y1="71.90" x2="106.90" y2="71.90" stroke="#b84a5e" stroke-width="1.1" stroke-dasharray="2.9,1.7"/>
<text x="130.20" y="73.50" font-size="4.5" text-anchor="middle" fill="#2a2a2a" textLength="30.4" lengthAdjust="spacingAndGlyphs" stroke="#2a2a2a" stroke-width="0.14">D3, censor HCT</text>
<text x="168.60" y="73.50" font-size="4.5" text-anchor="middle" fill="#2a2a2a" stroke="#2a2a2a" stroke-width="0.14">459/506</text>
<text x="200.30" y="73.50" font-size="4.5" text-anchor="middle" fill="#2a2a2a" textLength="21.1" lengthAdjust="spacingAndGlyphs" stroke="#2a2a2a" stroke-width="0.14">12 Months</text>
<text x="234.80" y="73.50" font-size="4.5" text-anchor="middle" fill="#2a2a2a" textLength="33.2" lengthAdjust="spacingAndGlyphs" stroke="#2a2a2a" stroke-width="0.14">23.1 (19.4-26.9%)</text>
<text x="254.60" y="79.20" font-size="4.5" text-anchor="end" fill="#2a2a2a" textLength="18.0" lengthAdjust="spacingAndGlyphs" stroke="#2a2a2a" stroke-width="0.14">+ Censor</text>
<text x="9.10" y="164.90" font-size="10.0" text-anchor="start" fill="#2a2a2a" textLength="5.5" lengthAdjust="spacingAndGlyphs" stroke="#222" stroke-width="0.3">B</text>
<text x="17.90" y="165.30" font-size="6.6" text-anchor="start" fill="#2a2a2a" textLength="32.2" lengthAdjust="spacingAndGlyphs" stroke="#2a2a2a" stroke-width="0.05">Study 10503</text>
<text x="0" y="0" font-size="8.0" text-anchor="middle" fill="#2a2a2a" stroke="#2a2a2a" stroke-width="0.14" textLength="6.2" lengthAdjust="spacingAndGlyphs" transform="translate(17.00,257.00) rotate(-90)">%</text>
<text x="0" y="0" font-size="8.0" text-anchor="middle" fill="#2a2a2a" stroke="#2a2a2a" stroke-width="0.14" textLength="14.9" lengthAdjust="spacingAndGlyphs" transform="translate(17.00,243.75) rotate(-90)">alive</text>
<text x="0" y="0" font-size="8.0" text-anchor="middle" fill="#2a2a2a" stroke="#2a2a2a" stroke-width="0.14" textLength="12.1" lengthAdjust="spacingAndGlyphs" transform="translate(17.00,226.95) rotate(-90)">and</text>
<text x="0" y="0" font-size="8.0" text-anchor="middle" fill="#2a2a2a" stroke="#2a2a2a" stroke-width="0.14" textLength="36.8" lengthAdjust="spacingAndGlyphs" transform="translate(17.00,199.70) rotate(-90)">event-free</text>
<line x1="38.30" y1="179.70" x2="38.30" y2="263.50" stroke="#3a3a3a" stroke-width="1.0"/>
<line x1="37.80" y1="263.00" x2="256.30" y2="263.00" stroke="#3a3a3a" stroke-width="1.4"/>
<line x1="35.00" y1="259.20" x2="38.30" y2="259.20" stroke="#3a3a3a" stroke-width="0.9"/>
<text x="32.70" y="261.50" font-size="6.5" text-anchor="end" fill="#2a2a2a" textLength="3.1" lengthAdjust="spacingAndGlyphs" stroke="#2a2a2a" stroke-width="0.18">0</text>
<line x1="35.00" y1="251.53" x2="38.30" y2="251.53" stroke="#3a3a3a" stroke-width="0.9"/>
<text x="32.70" y="253.83" font-size="6.5" text-anchor="end" fill="#2a2a2a" textLength="6.2" lengthAdjust="spacingAndGlyphs" stroke="#2a2a2a" stroke-width="0.18">10</text>
<line x1="35.00" y1="243.86" x2="38.30" y2="243.86" stroke="#3a3a3a" stroke-width="0.9"/>
<text x="32.70" y="246.16" font-size="6.5" text-anchor="end" fill="#2a2a2a" textLength="6.2" lengthAdjust="spacingAndGlyphs" stroke="#2a2a2a" stroke-width="0.18">20</text>
<line x1="35.00" y1="236.19" x2="38.30" y2="236.19" stroke="#3a3a3a" stroke-width="0.9"/>
<text x="32.70" y="238.49" font-size="6.5" text-anchor="end" fill="#2a2a2a" textLength="6.2" lengthAdjust="spacingAndGlyphs" stroke="#2a2a2a" stroke-width="0.18">30</text>
<line x1="35.00" y1="228.52" x2="38.30" y2="228.52" stroke="#3a3a3a" stroke-width="0.9"/>
<text x="32.70" y="230.82" font-size="6.5" text-anchor="end" fill="#2a2a2a" textLength="6.2" lengthAdjust="spacingAndGlyphs" stroke="#2a2a2a" stroke-width="0.18">40</text>
<line x1="35.00" y1="220.85" x2="38.30" y2="220.85" stroke="#3a3a3a" stroke-width="0.9"/>
<text x="32.70" y="223.15" font-size="6.5" text-anchor="end" fill="#2a2a2a" textLength="6.2" lengthAdjust="spacingAndGlyphs" stroke="#2a2a2a" stroke-width="0.18">50</text>
<line x1="35.00" y1="213.18" x2="38.30" y2="213.18" stroke="#3a3a3a" stroke-width="0.9"/>
<text x="32.70" y="215.48" font-size="6.5" text-anchor="end" fill="#2a2a2a" textLength="6.2" lengthAdjust="spacingAndGlyphs" stroke="#2a2a2a" stroke-width="0.18">60</text>
<line x1="35.00" y1="205.51" x2="38.30" y2="205.51" stroke="#3a3a3a" stroke-width="0.9"/>
<text x="32.70" y="207.81" font-size="6.5" text-anchor="end" fill="#2a2a2a" textLength="6.2" lengthAdjust="spacingAndGlyphs" stroke="#2a2a2a" stroke-width="0.18">70</text>
<line x1="35.00" y1="197.84" x2="38.30" y2="197.84" stroke="#3a3a3a" stroke-width="0.9"/>
<text x="32.70" y="200.14" font-size="6.5" text-anchor="end" fill="#2a2a2a" textLength="6.2" lengthAdjust="spacingAndGlyphs" stroke="#2a2a2a" stroke-width="0.18">80</text>
<line x1="35.00" y1="190.17" x2="38.30" y2="190.17" stroke="#3a3a3a" stroke-width="0.9"/>
<text x="32.70" y="192.47" font-size="6.5" text-anchor="end" fill="#2a2a2a" textLength="6.2" lengthAdjust="spacingAndGlyphs" stroke="#2a2a2a" stroke-width="0.18">90</text>
<line x1="35.00" y1="182.50" x2="38.30" y2="182.50" stroke="#3a3a3a" stroke-width="0.9"/>
<text x="32.70" y="184.80" font-size="6.5" text-anchor="end" fill="#2a2a2a" textLength="9.3" lengthAdjust="spacingAndGlyphs" stroke="#2a2a2a" stroke-width="0.18">100</text>
<line x1="41.00" y1="263.00" x2="41.00" y2="265.90" stroke="#3a3a3a" stroke-width="0.9"/>
<text x="41.00" y="274.60" font-size="6.5" text-anchor="middle" fill="#2a2a2a" textLength="3.1" lengthAdjust="spacingAndGlyphs" stroke="#2a2a2a" stroke-width="0.18">0</text>
<line x1="67.50" y1="263.00" x2="67.50" y2="265.90" stroke="#3a3a3a" stroke-width="0.9"/>
<text x="67.50" y="274.60" font-size="6.5" text-anchor="middle" fill="#2a2a2a" textLength="3.1" lengthAdjust="spacingAndGlyphs" stroke="#2a2a2a" stroke-width="0.18">3</text>
<line x1="94.00" y1="263.00" x2="94.00" y2="265.90" stroke="#3a3a3a" stroke-width="0.9"/>
<text x="94.00" y="274.60" font-size="6.5" text-anchor="middle" fill="#2a2a2a" textLength="3.1" lengthAdjust="spacingAndGlyphs" stroke="#2a2a2a" stroke-width="0.18">6</text>
<line x1="120.50" y1="263.00" x2="120.50" y2="265.90" stroke="#3a3a3a" stroke-width="0.9"/>
<text x="120.50" y="274.60" font-size="6.5" text-anchor="middle" fill="#2a2a2a" textLength="3.1" lengthAdjust="spacingAndGlyphs" stroke="#2a2a2a" stroke-width="0.18">9</text>
<line x1="147.00" y1="263.00" x2="147.00" y2="265.90" stroke="#3a3a3a" stroke-width="0.9"/>
<text x="147.00" y="274.60" font-size="6.5" text-anchor="middle" fill="#2a2a2a" textLength="6.2" lengthAdjust="spacingAndGlyphs" stroke="#2a2a2a" stroke-width="0.18">12</text>
<line x1="173.50" y1="263.00" x2="173.50" y2="265.90" stroke="#3a3a3a" stroke-width="0.9"/>
<text x="173.50" y="274.60" font-size="6.5" text-anchor="middle" fill="#2a2a2a" textLength="6.2" lengthAdjust="spacingAndGlyphs" stroke="#2a2a2a" stroke-width="0.18">15</text>
<line x1="200.00" y1="263.00" x2="200.00" y2="265.90" stroke="#3a3a3a" stroke-width="0.9"/>
<text x="200.00" y="274.60" font-size="6.5" text-anchor="middle" fill="#2a2a2a" textLength="6.2" lengthAdjust="spacingAndGlyphs" stroke="#2a2a2a" stroke-width="0.18">18</text>
<line x1="226.50" y1="263.00" x2="226.50" y2="265.90" stroke="#3a3a3a" stroke-width="0.9"/>
<text x="226.50" y="274.60" font-size="6.5" text-anchor="middle" fill="#2a2a2a" textLength="6.2" lengthAdjust="spacingAndGlyphs" stroke="#2a2a2a" stroke-width="0.18">21</text>
<line x1="253.00" y1="263.00" x2="253.00" y2="265.90" stroke="#3a3a3a" stroke-width="0.9"/>
<text x="253.00" y="274.60" font-size="6.5" text-anchor="middle" fill="#2a2a2a" textLength="6.2" lengthAdjust="spacingAndGlyphs" stroke="#2a2a2a" stroke-width="0.18">24</text>
<text x="147.50" y="286.00" font-size="8.6" text-anchor="middle" fill="#2a2a2a" textLength="70.2" lengthAdjust="spacingAndGlyphs" stroke="#222" stroke-width="0.25">Follow-up (months)</text>
<path d="M41.40,182.60 L43.40,183.60 L45.70,185.85 L48.00,188.12 L51.40,192.23 L54.30,196.32 L56.00,197.97 L58.30,200.05 L58.30,209.15 L60.80,208.30 L63.20,208.80 L65.60,209.50 L68.50,210.40 L71.40,211.20 L75.20,211.90 L78.00,212.10 L85.70,213.30 L93.40,214.00 L101.10,215.20 L108.80,216.30 L118.00,218.00 L125.60,220.10 L135.20,222.00 L144.80,224.00 L154.50,225.40 L166.00,226.70 L183.20,227.60 L192.80,229.10 L214.00,230.20 L227.70,231.30 L252.50,232.90" fill="none" stroke="#6cab50" stroke-width="1.3" stroke-linejoin="round" stroke-dasharray="2.4,1.4"/>
<path d="M41.40,182.60 L43.40,183.60 L45.70,185.86 L48.00,188.15 L51.40,192.28 L54.30,196.39 L56.00,199.55 L58.40,202.34 L60.80,204.30 L63.20,205.30 L65.60,206.20 L68.50,207.70 L71.40,208.60 L75.20,209.10 L78.00,209.50 L85.70,210.70 L93.40,211.80 L101.10,213.40 L108.80,215.30 L118.00,216.80 L125.60,218.80 L135.20,221.20 L144.80,223.10 L154.50,224.30 L166.00,225.50 L183.20,227.70 L192.80,228.70 L214.00,230.30 L227.70,231.40 L252.50,233.00" fill="none" stroke="#3f5c95" stroke-width="1.3" stroke-linejoin="round" stroke-dasharray="2.4,1.4"/>
<path d="M41.40,182.60 L43.40,183.40 L45.70,185.46 L48.00,187.35 L49.70,189.11 L52.00,191.20 L53.40,193.55 L55.40,196.43 L56.00,197.65 L58.40,199.44 L60.80,201.20 L63.20,202.40 L65.60,203.80 L68.50,204.80 L71.40,205.50 L75.20,206.50 L78.00,206.80 L85.70,208.40 L93.40,210.30 L101.10,212.20 L108.80,214.10 L116.00,215.90 L125.60,217.80 L135.20,220.20 L144.80,222.30 L154.50,223.60 L164.00,225.10 L170.70,225.30 L172.70,226.10 L183.20,226.50 L188.00,227.70 L200.50,228.20 L207.30,228.70 L214.00,229.20 L220.60,229.50 L227.70,230.10 L236.50,230.70 L245.40,231.40 L252.50,231.90" fill="none" stroke="#ad2a42" stroke-width="1.3" stroke-linejoin="round" stroke-dasharray="2.4,1.4"/>
<path d="M41.40,182.60 L43.40,183.60 L45.70,185.80 L48.00,188.00 L51.40,192.00 L54.30,196.00 L56.00,197.60 L58.30,199.60 L58.30,208.70 L60.80,207.80 L63.20,208.30 L65.60,209.00 L68.50,209.90 L71.40,210.70 L75.20,211.40 L78.00,211.60 L85.70,212.80 L93.40,213.50 L101.10,214.70 L108.80,215.80 L118.00,217.50 L125.60,219.60 L135.20,221.50 L144.80,223.50 L154.50,224.90 L166.00,226.20 L183.20,227.10 L192.80,228.60 L214.00,229.70 L227.70,230.80 L252.50,232.40" fill="none" stroke="#6cab50" stroke-width="1.3" stroke-linejoin="round"/>
<path d="M41.40,182.60 L43.40,183.60 L45.70,185.80 L48.00,188.00 L51.40,192.00 L54.30,196.00 L56.00,199.10 L58.40,201.80 L60.80,203.70 L63.20,204.70 L65.60,205.60 L68.50,207.10 L71.40,208.00 L75.20,208.50 L78.00,208.90 L85.70,210.10 L93.40,211.20 L101.10,212.80 L108.80,214.70 L118.00,216.20 L125.60,218.20 L135.20,220.60 L144.80,222.50 L154.50,223.70 L166.00,224.90 L183.20,227.10 L192.80,228.10 L214.00,229.70 L227.70,230.80 L252.50,232.40" fill="none" stroke="#3f5c95" stroke-width="1.3" stroke-linejoin="round"/>
<path d="M41.40,182.60 L43.40,183.40 L45.70,185.40 L48.00,187.20 L49.70,188.90 L52.00,190.90 L53.40,193.20 L55.40,196.00 L56.00,197.20 L58.40,198.90 L60.80,200.60 L63.20,201.80 L65.60,203.20 L68.50,204.20 L71.40,204.90 L75.20,205.90 L78.00,206.20 L85.70,207.80 L93.40,209.70 L101.10,211.60 L108.80,213.50 L116.00,215.30 L125.60,217.20 L135.20,219.60 L144.80,221.70 L154.50,223.00 L164.00,224.50 L170.70,224.70 L172.70,225.50 L183.20,225.90 L188.00,227.10 L200.50,227.60 L207.30,228.10 L214.00,228.60 L220.60,228.90 L227.70,229.50 L236.50,230.10 L245.40,230.80 L252.50,231.30" fill="none" stroke="#ad2a42" stroke-width="1.3" stroke-linejoin="round"/>
<line x1="56.14" y1="196.62" x2="56.14" y2="198.82" stroke="#6cab50" stroke-width="0.7"/>
<line x1="62.32" y1="207.02" x2="62.32" y2="209.22" stroke="#6cab50" stroke-width="0.7"/>
<line x1="67.59" y1="208.52" x2="67.59" y2="210.72" stroke="#6cab50" stroke-width="0.7"/>
<line x1="70.50" y1="209.35" x2="70.50" y2="211.55" stroke="#6cab50" stroke-width="0.7"/>
<line x1="74.32" y1="210.14" x2="74.32" y2="212.34" stroke="#6cab50" stroke-width="0.7"/>
<line x1="77.76" y1="210.48" x2="77.76" y2="212.68" stroke="#6cab50" stroke-width="0.7"/>
<line x1="82.86" y1="211.26" x2="82.86" y2="213.46" stroke="#6cab50" stroke-width="0.7"/>
<line x1="86.76" y1="211.80" x2="86.76" y2="214.00" stroke="#6cab50" stroke-width="0.7"/>
<line x1="92.41" y1="212.31" x2="92.41" y2="214.51" stroke="#6cab50" stroke-width="0.7"/>
<line x1="95.50" y1="212.73" x2="95.50" y2="214.93" stroke="#6cab50" stroke-width="0.7"/>
<line x1="101.88" y1="213.71" x2="101.88" y2="215.91" stroke="#6cab50" stroke-width="0.7"/>
<line x1="105.79" y1="214.27" x2="105.79" y2="216.47" stroke="#6cab50" stroke-width="0.7"/>
<line x1="111.97" y1="215.29" x2="111.97" y2="217.49" stroke="#6cab50" stroke-width="0.7"/>
<line x1="116.46" y1="216.12" x2="116.46" y2="218.32" stroke="#6cab50" stroke-width="0.7"/>
<line x1="120.44" y1="217.07" x2="120.44" y2="219.27" stroke="#6cab50" stroke-width="0.7"/>
<line x1="126.63" y1="218.70" x2="126.63" y2="220.90" stroke="#6cab50" stroke-width="0.7"/>
<line x1="132.37" y1="219.84" x2="132.37" y2="222.04" stroke="#6cab50" stroke-width="0.7"/>
<line x1="136.05" y1="220.58" x2="136.05" y2="222.78" stroke="#6cab50" stroke-width="0.7"/>
<line x1="142.41" y1="221.90" x2="142.41" y2="224.10" stroke="#6cab50" stroke-width="0.7"/>
<line x1="146.27" y1="222.61" x2="146.27" y2="224.81" stroke="#6cab50" stroke-width="0.7"/>
<line x1="149.40" y1="223.06" x2="149.40" y2="225.26" stroke="#6cab50" stroke-width="0.7"/>
<line x1="153.76" y1="223.69" x2="153.76" y2="225.89" stroke="#6cab50" stroke-width="0.7"/>
<line x1="157.54" y1="224.14" x2="157.54" y2="226.34" stroke="#6cab50" stroke-width="0.7"/>
<line x1="162.48" y1="224.70" x2="162.48" y2="226.90" stroke="#6cab50" stroke-width="0.7"/>
<line x1="168.27" y1="225.22" x2="168.27" y2="227.42" stroke="#6cab50" stroke-width="0.7"/>
<line x1="172.31" y1="225.43" x2="172.31" y2="227.63" stroke="#6cab50" stroke-width="0.7"/>
<line x1="176.02" y1="225.62" x2="176.02" y2="227.82" stroke="#6cab50" stroke-width="0.7"/>
<line x1="182.33" y1="225.95" x2="182.33" y2="228.15" stroke="#6cab50" stroke-width="0.7"/>
<line x1="188.42" y1="226.81" x2="188.42" y2="229.01" stroke="#6cab50" stroke-width="0.7"/>
<line x1="192.89" y1="227.50" x2="192.89" y2="229.70" stroke="#6cab50" stroke-width="0.7"/>
<line x1="199.33" y1="227.84" x2="199.33" y2="230.04" stroke="#6cab50" stroke-width="0.7"/>
<line x1="205.58" y1="228.16" x2="205.58" y2="230.36" stroke="#6cab50" stroke-width="0.7"/>
<line x1="211.24" y1="228.46" x2="211.24" y2="230.66" stroke="#6cab50" stroke-width="0.7"/>
<line x1="217.25" y1="228.86" x2="217.25" y2="231.06" stroke="#6cab50" stroke-width="0.7"/>
<line x1="220.22" y1="229.10" x2="220.22" y2="231.30" stroke="#6cab50" stroke-width="0.7"/>
<line x1="225.42" y1="229.52" x2="225.42" y2="231.72" stroke="#6cab50" stroke-width="0.7"/>
<line x1="231.76" y1="229.96" x2="231.76" y2="232.16" stroke="#6cab50" stroke-width="0.7"/>
<line x1="235.95" y1="230.23" x2="235.95" y2="232.43" stroke="#6cab50" stroke-width="0.7"/>
<line x1="238.90" y1="230.42" x2="238.90" y2="232.62" stroke="#6cab50" stroke-width="0.7"/>
<line x1="244.75" y1="230.80" x2="244.75" y2="233.00" stroke="#6cab50" stroke-width="0.7"/>
<line x1="250.50" y1="231.17" x2="250.50" y2="233.37" stroke="#6cab50" stroke-width="0.7"/>
<line x1="56.31" y1="198.35" x2="56.31" y2="200.55" stroke="#3f5c95" stroke-width="0.7"/>
<line x1="59.23" y1="201.35" x2="59.23" y2="203.55" stroke="#3f5c95" stroke-width="0.7"/>
<line x1="65.23" y1="204.36" x2="65.23" y2="206.56" stroke="#3f5c95" stroke-width="0.7"/>
<line x1="69.91" y1="206.44" x2="69.91" y2="208.64" stroke="#3f5c95" stroke-width="0.7"/>
<line x1="74.03" y1="207.25" x2="74.03" y2="209.45" stroke="#3f5c95" stroke-width="0.7"/>
<line x1="80.31" y1="208.16" x2="80.31" y2="210.36" stroke="#3f5c95" stroke-width="0.7"/>
<line x1="83.77" y1="208.70" x2="83.77" y2="210.90" stroke="#3f5c95" stroke-width="0.7"/>
<line x1="88.97" y1="209.47" x2="88.97" y2="211.67" stroke="#3f5c95" stroke-width="0.7"/>
<line x1="94.27" y1="210.28" x2="94.27" y2="212.48" stroke="#3f5c95" stroke-width="0.7"/>
<line x1="99.81" y1="211.43" x2="99.81" y2="213.63" stroke="#3f5c95" stroke-width="0.7"/>
<line x1="105.66" y1="212.82" x2="105.66" y2="215.02" stroke="#3f5c95" stroke-width="0.7"/>
<line x1="109.15" y1="213.66" x2="109.15" y2="215.86" stroke="#3f5c95" stroke-width="0.7"/>
<line x1="113.16" y1="214.31" x2="113.16" y2="216.51" stroke="#3f5c95" stroke-width="0.7"/>
<line x1="118.23" y1="215.16" x2="118.23" y2="217.36" stroke="#3f5c95" stroke-width="0.7"/>
<line x1="123.87" y1="216.64" x2="123.87" y2="218.84" stroke="#3f5c95" stroke-width="0.7"/>
<line x1="130.32" y1="218.28" x2="130.32" y2="220.48" stroke="#3f5c95" stroke-width="0.7"/>
<line x1="136.37" y1="219.73" x2="136.37" y2="221.93" stroke="#3f5c95" stroke-width="0.7"/>
<line x1="139.48" y1="220.35" x2="139.48" y2="222.55" stroke="#3f5c95" stroke-width="0.7"/>
<line x1="142.02" y1="220.85" x2="142.02" y2="223.05" stroke="#3f5c95" stroke-width="0.7"/>
<line x1="147.10" y1="221.68" x2="147.10" y2="223.88" stroke="#3f5c95" stroke-width="0.7"/>
<line x1="150.29" y1="222.08" x2="150.29" y2="224.28" stroke="#3f5c95" stroke-width="0.7"/>
<line x1="153.30" y1="222.45" x2="153.30" y2="224.65" stroke="#3f5c95" stroke-width="0.7"/>
<line x1="157.79" y1="222.94" x2="157.79" y2="225.14" stroke="#3f5c95" stroke-width="0.7"/>
<line x1="164.09" y1="223.60" x2="164.09" y2="225.80" stroke="#3f5c95" stroke-width="0.7"/>
<line x1="170.48" y1="224.37" x2="170.48" y2="226.57" stroke="#3f5c95" stroke-width="0.7"/>
<line x1="173.16" y1="224.72" x2="173.16" y2="226.92" stroke="#3f5c95" stroke-width="0.7"/>
<line x1="178.87" y1="225.45" x2="178.87" y2="227.65" stroke="#3f5c95" stroke-width="0.7"/>
<line x1="185.28" y1="226.22" x2="185.28" y2="228.42" stroke="#3f5c95" stroke-width="0.7"/>
<line x1="190.45" y1="226.76" x2="190.45" y2="228.96" stroke="#3f5c95" stroke-width="0.7"/>
<line x1="194.38" y1="227.12" x2="194.38" y2="229.32" stroke="#3f5c95" stroke-width="0.7"/>
<line x1="199.53" y1="227.51" x2="199.53" y2="229.71" stroke="#3f5c95" stroke-width="0.7"/>
<line x1="204.24" y1="227.86" x2="204.24" y2="230.06" stroke="#3f5c95" stroke-width="0.7"/>
<line x1="209.41" y1="228.25" x2="209.41" y2="230.45" stroke="#3f5c95" stroke-width="0.7"/>
<line x1="213.72" y1="228.58" x2="213.72" y2="230.78" stroke="#3f5c95" stroke-width="0.7"/>
<line x1="217.40" y1="228.87" x2="217.40" y2="231.07" stroke="#3f5c95" stroke-width="0.7"/>
<line x1="222.47" y1="229.28" x2="222.47" y2="231.48" stroke="#3f5c95" stroke-width="0.7"/>
<line x1="225.73" y1="229.54" x2="225.73" y2="231.74" stroke="#3f5c95" stroke-width="0.7"/>
<line x1="231.99" y1="229.98" x2="231.99" y2="232.18" stroke="#3f5c95" stroke-width="0.7"/>
<line x1="234.84" y1="230.16" x2="234.84" y2="232.36" stroke="#3f5c95" stroke-width="0.7"/>
<line x1="238.73" y1="230.41" x2="238.73" y2="232.61" stroke="#3f5c95" stroke-width="0.7"/>
<line x1="241.24" y1="230.57" x2="241.24" y2="232.77" stroke="#3f5c95" stroke-width="0.7"/>
<line x1="243.76" y1="230.74" x2="243.76" y2="232.94" stroke="#3f5c95" stroke-width="0.7"/>
<line x1="248.45" y1="231.04" x2="248.45" y2="233.24" stroke="#3f5c95" stroke-width="0.7"/>
<line x1="58.32" y1="197.74" x2="58.32" y2="199.94" stroke="#ad2a42" stroke-width="0.7"/>
<line x1="62.17" y1="200.19" x2="62.17" y2="202.39" stroke="#ad2a42" stroke-width="0.7"/>
<line x1="67.40" y1="202.72" x2="67.40" y2="204.92" stroke="#ad2a42" stroke-width="0.7"/>
<line x1="70.84" y1="203.67" x2="70.84" y2="205.87" stroke="#ad2a42" stroke-width="0.7"/>
<line x1="75.84" y1="204.87" x2="75.84" y2="207.07" stroke="#ad2a42" stroke-width="0.7"/>
<line x1="81.75" y1="205.88" x2="81.75" y2="208.08" stroke="#ad2a42" stroke-width="0.7"/>
<line x1="87.43" y1="207.13" x2="87.43" y2="209.33" stroke="#ad2a42" stroke-width="0.7"/>
<line x1="90.04" y1="207.77" x2="90.04" y2="209.97" stroke="#ad2a42" stroke-width="0.7"/>
<line x1="92.92" y1="208.48" x2="92.92" y2="210.68" stroke="#ad2a42" stroke-width="0.7"/>
<line x1="98.02" y1="209.74" x2="98.02" y2="211.94" stroke="#ad2a42" stroke-width="0.7"/>
<line x1="102.06" y1="210.74" x2="102.06" y2="212.94" stroke="#ad2a42" stroke-width="0.7"/>
<line x1="107.09" y1="211.98" x2="107.09" y2="214.18" stroke="#ad2a42" stroke-width="0.7"/>
<line x1="111.15" y1="212.99" x2="111.15" y2="215.19" stroke="#ad2a42" stroke-width="0.7"/>
<line x1="114.61" y1="213.85" x2="114.61" y2="216.05" stroke="#ad2a42" stroke-width="0.7"/>
<line x1="120.05" y1="215.00" x2="120.05" y2="217.20" stroke="#ad2a42" stroke-width="0.7"/>
<line x1="124.81" y1="215.94" x2="124.81" y2="218.14" stroke="#ad2a42" stroke-width="0.7"/>
<line x1="129.49" y1="217.07" x2="129.49" y2="219.27" stroke="#ad2a42" stroke-width="0.7"/>
<line x1="135.87" y1="218.65" x2="135.87" y2="220.85" stroke="#ad2a42" stroke-width="0.7"/>
<line x1="142.31" y1="220.06" x2="142.31" y2="222.26" stroke="#ad2a42" stroke-width="0.7"/>
<line x1="148.54" y1="221.10" x2="148.54" y2="223.30" stroke="#ad2a42" stroke-width="0.7"/>
<line x1="152.61" y1="221.65" x2="152.61" y2="223.85" stroke="#ad2a42" stroke-width="0.7"/>
<line x1="158.03" y1="222.46" x2="158.03" y2="224.66" stroke="#ad2a42" stroke-width="0.7"/>
<line x1="163.05" y1="223.25" x2="163.05" y2="225.45" stroke="#ad2a42" stroke-width="0.7"/>
<line x1="165.75" y1="223.45" x2="165.75" y2="225.65" stroke="#ad2a42" stroke-width="0.7"/>
<line x1="171.29" y1="223.83" x2="171.29" y2="226.03" stroke="#ad2a42" stroke-width="0.7"/>
<line x1="174.76" y1="224.48" x2="174.76" y2="226.68" stroke="#ad2a42" stroke-width="0.7"/>
<line x1="177.61" y1="224.59" x2="177.61" y2="226.79" stroke="#ad2a42" stroke-width="0.7"/>
<line x1="183.53" y1="224.88" x2="183.53" y2="227.08" stroke="#ad2a42" stroke-width="0.7"/>
<line x1="188.86" y1="226.03" x2="188.86" y2="228.23" stroke="#ad2a42" stroke-width="0.7"/>
<line x1="193.62" y1="226.22" x2="193.62" y2="228.42" stroke="#ad2a42" stroke-width="0.7"/>
<line x1="199.20" y1="226.45" x2="199.20" y2="228.65" stroke="#ad2a42" stroke-width="0.7"/>
<line x1="202.32" y1="226.63" x2="202.32" y2="228.83" stroke="#ad2a42" stroke-width="0.7"/>
<line x1="207.97" y1="227.05" x2="207.97" y2="229.25" stroke="#ad2a42" stroke-width="0.7"/>
<line x1="213.40" y1="227.46" x2="213.40" y2="229.66" stroke="#ad2a42" stroke-width="0.7"/>
<line x1="217.22" y1="227.65" x2="217.22" y2="229.85" stroke="#ad2a42" stroke-width="0.7"/>
<line x1="219.96" y1="227.77" x2="219.96" y2="229.97" stroke="#ad2a42" stroke-width="0.7"/>
<line x1="224.55" y1="228.13" x2="224.55" y2="230.33" stroke="#ad2a42" stroke-width="0.7"/>
<line x1="227.51" y1="228.38" x2="227.51" y2="230.58" stroke="#ad2a42" stroke-width="0.7"/>
<line x1="231.67" y1="228.67" x2="231.67" y2="230.87" stroke="#ad2a42" stroke-width="0.7"/>
<line x1="234.91" y1="228.89" x2="234.91" y2="231.09" stroke="#ad2a42" stroke-width="0.7"/>
<line x1="240.24" y1="229.29" x2="240.24" y2="231.49" stroke="#ad2a42" stroke-width="0.7"/>
<line x1="244.04" y1="229.59" x2="244.04" y2="231.79" stroke="#ad2a42" stroke-width="0.7"/>
<line x1="249.52" y1="229.99" x2="249.52" y2="232.19" stroke="#ad2a42" stroke-width="0.7"/>
<text x="130.20" y="168.00" font-size="4.5" text-anchor="middle" fill="#2a2a2a" textLength="34.6" lengthAdjust="spacingAndGlyphs" stroke="#2a2a2a" stroke-width="0.14">Induction Fail Def</text>
<text x="168.60" y="168.00" font-size="4.5" text-anchor="middle" fill="#2a2a2a" textLength="24.8" lengthAdjust="spacingAndGlyphs" stroke="#2a2a2a" stroke-width="0.14">Events/Total</text>
<text x="200.30" y="168.00" font-size="4.5" text-anchor="middle" fill="#2a2a2a" textLength="22.2" lengthAdjust="spacingAndGlyphs" stroke="#2a2a2a" stroke-width="0.14">Time-Point</text>
<text x="234.80" y="168.00" font-size="4.5" text-anchor="middle" fill="#2a2a2a" textLength="31.7" lengthAdjust="spacingAndGlyphs" stroke="#2a2a2a" stroke-width="0.14">KM Est (95% CI)</text>
<line x1="93.80" y1="172.10" x2="106.90" y2="172.10" stroke="#7aba5c" stroke-width="1.1"/>
<text x="130.20" y="173.70" font-size="4.5" text-anchor="middle" fill="#2a2a2a" stroke="#2a2a2a" stroke-width="0.14">D1</text>
<text x="168.60" y="173.70" font-size="4.5" text-anchor="middle" fill="#2a2a2a" stroke="#2a2a2a" stroke-width="0.14">395/546</text>
<text x="200.30" y="173.70" font-size="4.5" text-anchor="middle" fill="#2a2a2a" textLength="21.1" lengthAdjust="spacingAndGlyphs" stroke="#2a2a2a" stroke-width="0.14">12 Months</text>
<text x="234.80" y="173.70" font-size="4.5" text-anchor="middle" fill="#2a2a2a" textLength="33.2" lengthAdjust="spacingAndGlyphs" stroke="#2a2a2a" stroke-width="0.14">45.1 (40.9-49.3%)</text>
<line x1="93.80" y1="178.88" x2="106.90" y2="178.88" stroke="#7aba5c" stroke-width="1.1" stroke-dasharray="2.9,1.7"/>
<text x="130.20" y="180.48" font-size="4.5" text-anchor="middle" fill="#2a2a2a" textLength="30.4" lengthAdjust="spacingAndGlyphs" stroke="#2a2a2a" stroke-width="0.14">D1, censor HCT</text>
<text x="168.60" y="180.48" font-size="4.5" text-anchor="middle" fill="#2a2a2a" stroke="#2a2a2a" stroke-width="0.14">353/546</text>
<text x="200.30" y="180.48" font-size="4.5" text-anchor="middle" fill="#2a2a2a" textLength="21.1" lengthAdjust="spacingAndGlyphs" stroke="#2a2a2a" stroke-width="0.14">12 Months</text>
<text x="234.80" y="180.48" font-size="4.5" text-anchor="middle" fill="#2a2a2a" textLength="33.2" lengthAdjust="spacingAndGlyphs" stroke="#2a2a2a" stroke-width="0.14">46.4 (41.8-50.7%)</text>
<line x1="93.80" y1="185.66" x2="106.90" y2="185.66" stroke="#5a70a2" stroke-width="1.1"/>
<text x="130.20" y="187.26" font-size="4.5" text-anchor="middle" fill="#2a2a2a" stroke="#2a2a2a" stroke-width="0.14">D2</text>
<text x="168.60" y="187.26" font-size="4.5" text-anchor="middle" fill="#2a2a2a" stroke="#2a2a2a" stroke-width="0.14">390/546</text>
<text x="200.30" y="187.26" font-size="4.5" text-anchor="middle" fill="#2a2a2a" textLength="21.1" lengthAdjust="spacingAndGlyphs" stroke="#2a2a2a" stroke-width="0.14">12 Months</text>
<text x="234.80" y="187.26" font-size="4.5" text-anchor="middle" fill="#2a2a2a" textLength="33.2" lengthAdjust="spacingAndGlyphs" stroke="#2a2a2a" stroke-width="0.14">46.6 (42.4-50.7%)</text>
<line x1="93.80" y1="192.44" x2="106.90" y2="192.44" stroke="#5a70a2" stroke-width="1.1" stroke-dasharray="2.9,1.7"/>
<text x="130.20" y="194.04" font-size="4.5" text-anchor="middle" fill="#2a2a2a" textLength="30.4" lengthAdjust="spacingAndGlyphs" stroke="#2a2a2a" stroke-width="0.14">D2, censor HCT</text>
<text x="168.60" y="194.04" font-size="4.5" text-anchor="middle" fill="#2a2a2a" stroke="#2a2a2a" stroke-width="0.14">349/546</text>
<text x="200.30" y="194.04" font-size="4.5" text-anchor="middle" fill="#2a2a2a" textLength="21.1" lengthAdjust="spacingAndGlyphs" stroke="#2a2a2a" stroke-width="0.14">12 Months</text>
<text x="234.80" y="194.04" font-size="4.5" text-anchor="middle" fill="#2a2a2a" textLength="33.2" lengthAdjust="spacingAndGlyphs" stroke="#2a2a2a" stroke-width="0.14">47.3 (42.7-51.7%)</text>
<line x1="93.80" y1="199.22" x2="106.90" y2="199.22" stroke="#b84a5e" stroke-width="1.1"/>
<text x="130.20" y="200.82" font-size="4.5" text-anchor="middle" fill="#2a2a2a" stroke="#2a2a2a" stroke-width="0.14">D3</text>
<text x="168.60" y="200.82" font-size="4.5" text-anchor="middle" fill="#2a2a2a" stroke="#2a2a2a" stroke-width="0.14">385/546</text>
<text x="200.30" y="200.82" font-size="4.5" text-anchor="middle" fill="#2a2a2a" textLength="21.1" lengthAdjust="spacingAndGlyphs" stroke="#2a2a2a" stroke-width="0.14">12 Months</text>
<text x="234.80" y="200.82" font-size="4.5" text-anchor="middle" fill="#2a2a2a" textLength="33.2" lengthAdjust="spacingAndGlyphs" stroke="#2a2a2a" stroke-width="0.14">47.9 (43.6-52.0%)</text>
<line x1="93.80" y1="206.00" x2="106.90" y2="206.00" stroke="#b84a5e" stroke-width="1.1" stroke-dasharray="2.9,1.7"/>
<text x="130.20" y="207.60" font-size="4.5" text-anchor="middle" fill="#2a2a2a" textLength="30.4" lengthAdjust="spacingAndGlyphs" stroke="#2a2a2a" stroke-width="0.14">D3, censor HCT</text>
<text x="168.60" y="207.60" font-size="4.5" text-anchor="middle" fill="#2a2a2a" stroke="#2a2a2a" stroke-width="0.14">343/546</text>
<text x="200.30" y="207.60" font-size="4.5" text-anchor="middle" fill="#2a2a2a" textLength="21.1" lengthAdjust="spacingAndGlyphs" stroke="#2a2a2a" stroke-width="0.14">12 Months</text>
<text x="234.80" y="207.60" font-size="4.5" text-anchor="middle" fill="#2a2a2a" textLength="33.2" lengthAdjust="spacingAndGlyphs" stroke="#2a2a2a" stroke-width="0.14">48.6 (44.0-53.0%)</text>
<text x="254.60" y="213.60" font-size="4.5" text-anchor="end" fill="#2a2a2a" textLength="18.0" lengthAdjust="spacingAndGlyphs" stroke="#2a2a2a" stroke-width="0.14">+ Censor</text>
<text x="8.80" y="309.90" font-size="10.0" text-anchor="start" fill="#2a2a2a" textLength="5.9" lengthAdjust="spacingAndGlyphs" stroke="#222" stroke-width="0.3">C</text>
<text x="17.90" y="309.90" font-size="6.6" text-anchor="start" fill="#2a2a2a" textLength="32.2" lengthAdjust="spacingAndGlyphs" stroke="#2a2a2a" stroke-width="0.05">Study 10603</text>
<text x="0" y="0" font-size="8.0" text-anchor="middle" fill="#2a2a2a" stroke="#2a2a2a" stroke-width="0.14" textLength="6.2" lengthAdjust="spacingAndGlyphs" transform="translate(17.00,397.95) rotate(-90)">%</text>
<text x="0" y="0" font-size="8.0" text-anchor="middle" fill="#2a2a2a" stroke="#2a2a2a" stroke-width="0.14" textLength="14.9" lengthAdjust="spacingAndGlyphs" transform="translate(17.00,384.70) rotate(-90)">alive</text>
<text x="0" y="0" font-size="8.0" text-anchor="middle" fill="#2a2a2a" stroke="#2a2a2a" stroke-width="0.14" textLength="12.1" lengthAdjust="spacingAndGlyphs" transform="translate(17.00,367.90) rotate(-90)">and</text>
<text x="0" y="0" font-size="8.0" text-anchor="middle" fill="#2a2a2a" stroke="#2a2a2a" stroke-width="0.14" textLength="36.8" lengthAdjust="spacingAndGlyphs" transform="translate(17.00,340.65) rotate(-90)">event-free</text>
<line x1="38.30" y1="321.30" x2="38.30" y2="404.50" stroke="#3a3a3a" stroke-width="1.0"/>
<line x1="37.80" y1="404.00" x2="256.30" y2="404.00" stroke="#3a3a3a" stroke-width="1.4"/>
<line x1="35.00" y1="400.20" x2="38.30" y2="400.20" stroke="#3a3a3a" stroke-width="0.9"/>
<text x="32.70" y="402.50" font-size="6.5" text-anchor="end" fill="#2a2a2a" textLength="3.1" lengthAdjust="spacingAndGlyphs" stroke="#2a2a2a" stroke-width="0.18">0</text>
<line x1="35.00" y1="392.52" x2="38.30" y2="392.52" stroke="#3a3a3a" stroke-width="0.9"/>
<text x="32.70" y="394.82" font-size="6.5" text-anchor="end" fill="#2a2a2a" textLength="6.2" lengthAdjust="spacingAndGlyphs" stroke="#2a2a2a" stroke-width="0.18">10</text>
<line x1="35.00" y1="384.84" x2="38.30" y2="384.84" stroke="#3a3a3a" stroke-width="0.9"/>
<text x="32.70" y="387.14" font-size="6.5" text-anchor="end" fill="#2a2a2a" textLength="6.2" lengthAdjust="spacingAndGlyphs" stroke="#2a2a2a" stroke-width="0.18">20</text>
<line x1="35.00" y1="377.16" x2="38.30" y2="377.16" stroke="#3a3a3a" stroke-width="0.9"/>
<text x="32.70" y="379.46" font-size="6.5" text-anchor="end" fill="#2a2a2a" textLength="6.2" lengthAdjust="spacingAndGlyphs" stroke="#2a2a2a" stroke-width="0.18">30</text>
<line x1="35.00" y1="369.48" x2="38.30" y2="369.48" stroke="#3a3a3a" stroke-width="0.9"/>
<text x="32.70" y="371.78" font-size="6.5" text-anchor="end" fill="#2a2a2a" textLength="6.2" lengthAdjust="spacingAndGlyphs" stroke="#2a2a2a" stroke-width="0.18">40</text>
<line x1="35.00" y1="361.80" x2="38.30" y2="361.80" stroke="#3a3a3a" stroke-width="0.9"/>
<text x="32.70" y="364.10" font-size="6.5" text-anchor="end" fill="#2a2a2a" textLength="6.2" lengthAdjust="spacingAndGlyphs" stroke="#2a2a2a" stroke-width="0.18">50</text>
<line x1="35.00" y1="354.12" x2="38.30" y2="354.12" stroke="#3a3a3a" stroke-width="0.9"/>
<text x="32.70" y="356.42" font-size="6.5" text-anchor="end" fill="#2a2a2a" textLength="6.2" lengthAdjust="spacingAndGlyphs" stroke="#2a2a2a" stroke-width="0.18">60</text>
<line x1="35.00" y1="346.44" x2="38.30" y2="346.44" stroke="#3a3a3a" stroke-width="0.9"/>
<text x="32.70" y="348.74" font-size="6.5" text-anchor="end" fill="#2a2a2a" textLength="6.2" lengthAdjust="spacingAndGlyphs" stroke="#2a2a2a" stroke-width="0.18">70</text>
<line x1="35.00" y1="338.76" x2="38.30" y2="338.76" stroke="#3a3a3a" stroke-width="0.9"/>
<text x="32.70" y="341.06" font-size="6.5" text-anchor="end" fill="#2a2a2a" textLength="6.2" lengthAdjust="spacingAndGlyphs" stroke="#2a2a2a" stroke-width="0.18">80</text>
<line x1="35.00" y1="331.08" x2="38.30" y2="331.08" stroke="#3a3a3a" stroke-width="0.9"/>
<text x="32.70" y="333.38" font-size="6.5" text-anchor="end" fill="#2a2a2a" textLength="6.2" lengthAdjust="spacingAndGlyphs" stroke="#2a2a2a" stroke-width="0.18">90</text>
<line x1="35.00" y1="323.40" x2="38.30" y2="323.40" stroke="#3a3a3a" stroke-width="0.9"/>
<text x="32.70" y="325.70" font-size="6.5" text-anchor="end" fill="#2a2a2a" textLength="9.3" lengthAdjust="spacingAndGlyphs" stroke="#2a2a2a" stroke-width="0.18">100</text>
<line x1="41.00" y1="404.00" x2="41.00" y2="406.90" stroke="#3a3a3a" stroke-width="0.9"/>
<text x="41.00" y="415.90" font-size="6.5" text-anchor="middle" fill="#2a2a2a" textLength="3.1" lengthAdjust="spacingAndGlyphs" stroke="#2a2a2a" stroke-width="0.18">0</text>
<line x1="67.50" y1="404.00" x2="67.50" y2="406.90" stroke="#3a3a3a" stroke-width="0.9"/>
<text x="67.50" y="415.90" font-size="6.5" text-anchor="middle" fill="#2a2a2a" textLength="3.1" lengthAdjust="spacingAndGlyphs" stroke="#2a2a2a" stroke-width="0.18">3</text>
<line x1="94.00" y1="404.00" x2="94.00" y2="406.90" stroke="#3a3a3a" stroke-width="0.9"/>
<text x="94.00" y="415.90" font-size="6.5" text-anchor="middle" fill="#2a2a2a" textLength="3.1" lengthAdjust="spacingAndGlyphs" stroke="#2a2a2a" stroke-width="0.18">6</text>
<line x1="120.50" y1="404.00" x2="120.50" y2="406.90" stroke="#3a3a3a" stroke-width="0.9"/>
<text x="120.50" y="415.90" font-size="6.5" text-anchor="middle" fill="#2a2a2a" textLength="3.1" lengthAdjust="spacingAndGlyphs" stroke="#2a2a2a" stroke-width="0.18">9</text>
<line x1="147.00" y1="404.00" x2="147.00" y2="406.90" stroke="#3a3a3a" stroke-width="0.9"/>
<text x="147.00" y="415.90" font-size="6.5" text-anchor="middle" fill="#2a2a2a" textLength="6.2" lengthAdjust="spacingAndGlyphs" stroke="#2a2a2a" stroke-width="0.18">12</text>
<line x1="173.50" y1="404.00" x2="173.50" y2="406.90" stroke="#3a3a3a" stroke-width="0.9"/>
<text x="173.50" y="415.90" font-size="6.5" text-anchor="middle" fill="#2a2a2a" textLength="6.2" lengthAdjust="spacingAndGlyphs" stroke="#2a2a2a" stroke-width="0.18">15</text>
<line x1="200.00" y1="404.00" x2="200.00" y2="406.90" stroke="#3a3a3a" stroke-width="0.9"/>
<text x="200.00" y="415.90" font-size="6.5" text-anchor="middle" fill="#2a2a2a" textLength="6.2" lengthAdjust="spacingAndGlyphs" stroke="#2a2a2a" stroke-width="0.18">18</text>
<line x1="226.50" y1="404.00" x2="226.50" y2="406.90" stroke="#3a3a3a" stroke-width="0.9"/>
<text x="226.50" y="415.90" font-size="6.5" text-anchor="middle" fill="#2a2a2a" textLength="6.2" lengthAdjust="spacingAndGlyphs" stroke="#2a2a2a" stroke-width="0.18">21</text>
<line x1="253.00" y1="404.00" x2="253.00" y2="406.90" stroke="#3a3a3a" stroke-width="0.9"/>
<text x="253.00" y="415.90" font-size="6.5" text-anchor="middle" fill="#2a2a2a" textLength="6.2" lengthAdjust="spacingAndGlyphs" stroke="#2a2a2a" stroke-width="0.18">24</text>
<text x="147.50" y="427.00" font-size="8.6" text-anchor="middle" fill="#2a2a2a" textLength="70.2" lengthAdjust="spacingAndGlyphs" stroke="#222" stroke-width="0.25">Follow-up (months)</text>
<path d="M41.40,324.30 L44.60,328.92 L47.30,332.70 L48.20,333.13 L51.00,335.92 L53.70,339.20 L56.00,344.57 L58.40,346.05 L58.60,359.06 L62.90,359.50 L69.70,360.20 L76.60,360.90 L83.50,361.60 L88.00,362.00 L95.70,364.00 L103.40,365.50 L111.10,367.40 L118.80,369.00 L126.00,370.30 L133.70,371.50 L141.40,372.70 L149.10,373.40 L156.80,374.00 L164.00,374.50 L173.60,375.50 L183.20,376.40 L192.80,377.90 L202.50,378.40 L210.00,378.50 L227.70,379.80 L241.00,381.10 L253.40,382.30" fill="none" stroke="#6cab50" stroke-width="1.3" stroke-linejoin="round" stroke-dasharray="2.4,1.4"/>
<path d="M41.40,324.30 L44.60,328.92 L47.30,333.12 L50.10,337.83 L52.80,342.03 L55.60,345.74 L56.00,347.05 L58.10,348.93 L59.40,351.38 L62.90,354.40 L66.30,356.20 L69.70,357.20 L73.20,357.50 L76.60,358.20 L83.50,358.90 L88.00,359.40 L95.70,361.40 L103.40,362.90 L111.10,364.80 L118.80,366.40 L126.00,368.50 L133.70,369.70 L141.40,370.40 L149.10,371.20 L156.80,372.00 L164.00,372.20 L173.60,373.20 L183.20,374.60 L192.80,375.60 L202.50,376.50 L210.00,377.20 L227.70,378.50 L253.40,379.90" fill="none" stroke="#3f5c95" stroke-width="1.3" stroke-linejoin="round" stroke-dasharray="2.4,1.4"/>
<path d="M156.80,367.40 L164.00,368.70 L183.20,370.70 L188.00,372.60 L197.70,374.00 L207.30,374.50 L214.00,375.50 L227.70,376.60 L241.00,377.50 L253.40,378.20" fill="none" stroke="#ad2a42" stroke-width="1.3" stroke-linejoin="round" stroke-dasharray="2.4,1.4"/>
<path d="M41.40,324.30 L44.60,328.90 L47.30,332.60 L48.20,333.00 L51.00,335.70 L53.70,338.90 L56.00,344.20 L58.40,345.60 L58.60,358.60 L62.90,359.00 L69.70,359.70 L76.60,360.40 L83.50,361.10 L88.00,361.50 L95.70,363.50 L103.40,365.00 L111.10,366.90 L118.80,368.50 L126.00,369.80 L133.70,371.00 L141.40,372.20 L149.10,372.90 L156.80,373.50 L164.00,374.00 L173.60,375.00 L183.20,375.90 L192.80,377.40 L202.50,377.90 L210.00,378.00 L227.70,379.30 L241.00,380.60 L253.40,381.80" fill="none" stroke="#6cab50" stroke-width="1.3" stroke-linejoin="round"/>
<path d="M41.40,324.30 L44.60,328.90 L47.30,333.00 L50.10,337.60 L52.80,341.70 L55.60,345.30 L56.00,346.60 L58.10,348.40 L59.40,350.80 L62.90,353.80 L66.30,355.60 L69.70,356.60 L73.20,356.90 L76.60,357.60 L83.50,358.30 L88.00,358.80 L95.70,360.80 L103.40,362.30 L111.10,364.20 L118.80,365.80 L126.00,367.90 L133.70,369.10 L141.40,369.80 L149.10,370.60 L156.80,371.40 L164.00,371.60 L173.60,372.60 L183.20,374.00 L192.80,375.00 L202.50,375.90 L210.00,376.60 L227.70,377.90 L253.40,379.30" fill="none" stroke="#3f5c95" stroke-width="1.3" stroke-linejoin="round"/>
<path d="M41.40,324.30 L43.70,326.10 L46.40,328.40 L48.20,330.20 L49.10,332.50 L51.90,333.90 L53.70,335.30 L55.60,337.60 L56.00,338.70 L58.10,340.10 L59.10,342.20 L61.50,343.90 L66.30,346.30 L69.70,347.70 L73.20,348.70 L76.60,349.40 L80.00,349.70 L84.80,351.10 L88.00,351.90 L95.70,354.60 L103.40,356.20 L111.10,358.50 L118.80,360.40 L126.00,362.90 L133.70,364.50 L141.40,365.60 L149.10,366.40 L156.80,367.20 L164.00,368.00 L173.60,368.90 L183.20,369.90 L185.20,371.10 L192.80,371.40 L202.50,371.90 L214.00,372.40 L218.80,372.90 L227.70,373.50 L236.50,374.10 L245.40,374.70 L253.40,375.30" fill="none" stroke="#ad2a42" stroke-width="1.3" stroke-linejoin="round"/>
<line x1="55.72" y1="342.45" x2="55.72" y2="344.65" stroke="#6cab50" stroke-width="0.7"/>
<line x1="60.75" y1="357.70" x2="60.75" y2="359.90" stroke="#6cab50" stroke-width="0.7"/>
<line x1="65.92" y1="358.21" x2="65.92" y2="360.41" stroke="#6cab50" stroke-width="0.7"/>
<line x1="71.30" y1="358.76" x2="71.30" y2="360.96" stroke="#6cab50" stroke-width="0.7"/>
<line x1="77.38" y1="359.38" x2="77.38" y2="361.58" stroke="#6cab50" stroke-width="0.7"/>
<line x1="81.85" y1="359.83" x2="81.85" y2="362.03" stroke="#6cab50" stroke-width="0.7"/>
<line x1="85.81" y1="360.21" x2="85.81" y2="362.41" stroke="#6cab50" stroke-width="0.7"/>
<line x1="89.78" y1="360.86" x2="89.78" y2="363.06" stroke="#6cab50" stroke-width="0.7"/>
<line x1="93.67" y1="361.87" x2="93.67" y2="364.07" stroke="#6cab50" stroke-width="0.7"/>
<line x1="97.02" y1="362.66" x2="97.02" y2="364.86" stroke="#6cab50" stroke-width="0.7"/>
<line x1="100.08" y1="363.25" x2="100.08" y2="365.45" stroke="#6cab50" stroke-width="0.7"/>
<line x1="105.26" y1="364.36" x2="105.26" y2="366.56" stroke="#6cab50" stroke-width="0.7"/>
<line x1="108.46" y1="365.15" x2="108.46" y2="367.35" stroke="#6cab50" stroke-width="0.7"/>
<line x1="111.94" y1="365.98" x2="111.94" y2="368.18" stroke="#6cab50" stroke-width="0.7"/>
<line x1="115.46" y1="366.71" x2="115.46" y2="368.91" stroke="#6cab50" stroke-width="0.7"/>
<line x1="120.35" y1="367.68" x2="120.35" y2="369.88" stroke="#6cab50" stroke-width="0.7"/>
<line x1="125.18" y1="368.55" x2="125.18" y2="370.75" stroke="#6cab50" stroke-width="0.7"/>
<line x1="130.05" y1="369.33" x2="130.05" y2="371.53" stroke="#6cab50" stroke-width="0.7"/>
<line x1="135.34" y1="370.15" x2="135.34" y2="372.35" stroke="#6cab50" stroke-width="0.7"/>
<line x1="140.63" y1="370.98" x2="140.63" y2="373.18" stroke="#6cab50" stroke-width="0.7"/>
<line x1="146.87" y1="371.60" x2="146.87" y2="373.80" stroke="#6cab50" stroke-width="0.7"/>
<line x1="151.52" y1="371.99" x2="151.52" y2="374.19" stroke="#6cab50" stroke-width="0.7"/>
<line x1="156.10" y1="372.35" x2="156.10" y2="374.55" stroke="#6cab50" stroke-width="0.7"/>
<line x1="160.07" y1="372.63" x2="160.07" y2="374.83" stroke="#6cab50" stroke-width="0.7"/>
<line x1="164.77" y1="372.98" x2="164.77" y2="375.18" stroke="#6cab50" stroke-width="0.7"/>
<line x1="170.34" y1="373.56" x2="170.34" y2="375.76" stroke="#6cab50" stroke-width="0.7"/>
<line x1="175.63" y1="374.09" x2="175.63" y2="376.29" stroke="#6cab50" stroke-width="0.7"/>
<line x1="179.60" y1="374.46" x2="179.60" y2="376.66" stroke="#6cab50" stroke-width="0.7"/>
<line x1="185.97" y1="375.23" x2="185.97" y2="377.43" stroke="#6cab50" stroke-width="0.7"/>
<line x1="189.81" y1="375.83" x2="189.81" y2="378.03" stroke="#6cab50" stroke-width="0.7"/>
<line x1="192.68" y1="376.28" x2="192.68" y2="378.48" stroke="#6cab50" stroke-width="0.7"/>
<line x1="196.76" y1="376.50" x2="196.76" y2="378.70" stroke="#6cab50" stroke-width="0.7"/>
<line x1="201.65" y1="376.76" x2="201.65" y2="378.96" stroke="#6cab50" stroke-width="0.7"/>
<line x1="207.28" y1="376.86" x2="207.28" y2="379.06" stroke="#6cab50" stroke-width="0.7"/>
<line x1="212.64" y1="377.09" x2="212.64" y2="379.29" stroke="#6cab50" stroke-width="0.7"/>
<line x1="216.22" y1="377.36" x2="216.22" y2="379.56" stroke="#6cab50" stroke-width="0.7"/>
<line x1="221.77" y1="377.76" x2="221.77" y2="379.96" stroke="#6cab50" stroke-width="0.7"/>
<line x1="228.10" y1="378.24" x2="228.10" y2="380.44" stroke="#6cab50" stroke-width="0.7"/>
<line x1="232.78" y1="378.70" x2="232.78" y2="380.90" stroke="#6cab50" stroke-width="0.7"/>
<line x1="239.27" y1="379.33" x2="239.27" y2="381.53" stroke="#6cab50" stroke-width="0.7"/>
<line x1="244.15" y1="379.80" x2="244.15" y2="382.00" stroke="#6cab50" stroke-width="0.7"/>
<line x1="247.72" y1="380.15" x2="247.72" y2="382.35" stroke="#6cab50" stroke-width="0.7"/>
<line x1="250.43" y1="380.41" x2="250.43" y2="382.61" stroke="#6cab50" stroke-width="0.7"/>
<line x1="57.57" y1="346.85" x2="57.57" y2="349.05" stroke="#3f5c95" stroke-width="0.7"/>
<line x1="61.30" y1="351.33" x2="61.30" y2="353.53" stroke="#3f5c95" stroke-width="0.7"/>
<line x1="67.66" y1="354.90" x2="67.66" y2="357.10" stroke="#3f5c95" stroke-width="0.7"/>
<line x1="73.07" y1="355.79" x2="73.07" y2="357.99" stroke="#3f5c95" stroke-width="0.7"/>
<line x1="79.29" y1="356.77" x2="79.29" y2="358.97" stroke="#3f5c95" stroke-width="0.7"/>
<line x1="84.68" y1="357.33" x2="84.68" y2="359.53" stroke="#3f5c95" stroke-width="0.7"/>
<line x1="88.16" y1="357.74" x2="88.16" y2="359.94" stroke="#3f5c95" stroke-width="0.7"/>
<line x1="94.22" y1="359.32" x2="94.22" y2="361.52" stroke="#3f5c95" stroke-width="0.7"/>
<line x1="100.45" y1="360.63" x2="100.45" y2="362.83" stroke="#3f5c95" stroke-width="0.7"/>
<line x1="106.85" y1="362.05" x2="106.85" y2="364.25" stroke="#3f5c95" stroke-width="0.7"/>
<line x1="110.50" y1="362.95" x2="110.50" y2="365.15" stroke="#3f5c95" stroke-width="0.7"/>
<line x1="113.75" y1="363.65" x2="113.75" y2="365.85" stroke="#3f5c95" stroke-width="0.7"/>
<line x1="119.49" y1="364.90" x2="119.49" y2="367.10" stroke="#3f5c95" stroke-width="0.7"/>
<line x1="124.16" y1="366.26" x2="124.16" y2="368.46" stroke="#3f5c95" stroke-width="0.7"/>
<line x1="127.27" y1="367.00" x2="127.27" y2="369.20" stroke="#3f5c95" stroke-width="0.7"/>
<line x1="131.41" y1="367.64" x2="131.41" y2="369.84" stroke="#3f5c95" stroke-width="0.7"/>
<line x1="135.11" y1="368.13" x2="135.11" y2="370.33" stroke="#3f5c95" stroke-width="0.7"/>
<line x1="139.72" y1="368.55" x2="139.72" y2="370.75" stroke="#3f5c95" stroke-width="0.7"/>
<line x1="143.36" y1="368.90" x2="143.36" y2="371.10" stroke="#3f5c95" stroke-width="0.7"/>
<line x1="147.79" y1="369.36" x2="147.79" y2="371.56" stroke="#3f5c95" stroke-width="0.7"/>
<line x1="151.96" y1="369.80" x2="151.96" y2="372.00" stroke="#3f5c95" stroke-width="0.7"/>
<line x1="154.87" y1="370.10" x2="154.87" y2="372.30" stroke="#3f5c95" stroke-width="0.7"/>
<line x1="160.40" y1="370.40" x2="160.40" y2="372.60" stroke="#3f5c95" stroke-width="0.7"/>
<line x1="164.08" y1="370.51" x2="164.08" y2="372.71" stroke="#3f5c95" stroke-width="0.7"/>
<line x1="170.27" y1="371.15" x2="170.27" y2="373.35" stroke="#3f5c95" stroke-width="0.7"/>
<line x1="174.90" y1="371.69" x2="174.90" y2="373.89" stroke="#3f5c95" stroke-width="0.7"/>
<line x1="177.89" y1="372.13" x2="177.89" y2="374.33" stroke="#3f5c95" stroke-width="0.7"/>
<line x1="182.16" y1="372.75" x2="182.16" y2="374.95" stroke="#3f5c95" stroke-width="0.7"/>
<line x1="187.75" y1="373.37" x2="187.75" y2="375.57" stroke="#3f5c95" stroke-width="0.7"/>
<line x1="192.38" y1="373.86" x2="192.38" y2="376.06" stroke="#3f5c95" stroke-width="0.7"/>
<line x1="196.94" y1="374.28" x2="196.94" y2="376.48" stroke="#3f5c95" stroke-width="0.7"/>
<line x1="202.11" y1="374.76" x2="202.11" y2="376.96" stroke="#3f5c95" stroke-width="0.7"/>
<line x1="208.39" y1="375.35" x2="208.39" y2="377.55" stroke="#3f5c95" stroke-width="0.7"/>
<line x1="213.02" y1="375.72" x2="213.02" y2="377.92" stroke="#3f5c95" stroke-width="0.7"/>
<line x1="218.69" y1="376.14" x2="218.69" y2="378.34" stroke="#3f5c95" stroke-width="0.7"/>
<line x1="224.44" y1="376.56" x2="224.44" y2="378.76" stroke="#3f5c95" stroke-width="0.7"/>
<line x1="227.12" y1="376.76" x2="227.12" y2="378.96" stroke="#3f5c95" stroke-width="0.7"/>
<line x1="232.80" y1="377.08" x2="232.80" y2="379.28" stroke="#3f5c95" stroke-width="0.7"/>
<line x1="238.58" y1="377.39" x2="238.58" y2="379.59" stroke="#3f5c95" stroke-width="0.7"/>
<line x1="242.09" y1="377.58" x2="242.09" y2="379.78" stroke="#3f5c95" stroke-width="0.7"/>
<line x1="246.98" y1="377.85" x2="246.98" y2="380.05" stroke="#3f5c95" stroke-width="0.7"/>
<line x1="250.90" y1="378.06" x2="250.90" y2="380.26" stroke="#3f5c95" stroke-width="0.7"/>
<line x1="56.31" y1="337.81" x2="56.31" y2="340.01" stroke="#ad2a42" stroke-width="0.7"/>
<line x1="60.36" y1="341.99" x2="60.36" y2="344.19" stroke="#ad2a42" stroke-width="0.7"/>
<line x1="66.80" y1="345.41" x2="66.80" y2="347.61" stroke="#ad2a42" stroke-width="0.7"/>
<line x1="72.25" y1="347.33" x2="72.25" y2="349.53" stroke="#ad2a42" stroke-width="0.7"/>
<line x1="75.06" y1="347.98" x2="75.06" y2="350.18" stroke="#ad2a42" stroke-width="0.7"/>
<line x1="79.26" y1="348.53" x2="79.26" y2="350.73" stroke="#ad2a42" stroke-width="0.7"/>
<line x1="84.74" y1="349.98" x2="84.74" y2="352.18" stroke="#ad2a42" stroke-width="0.7"/>
<line x1="87.41" y1="350.65" x2="87.41" y2="352.85" stroke="#ad2a42" stroke-width="0.7"/>
<line x1="90.01" y1="351.51" x2="90.01" y2="353.71" stroke="#ad2a42" stroke-width="0.7"/>
<line x1="92.65" y1="352.43" x2="92.65" y2="354.63" stroke="#ad2a42" stroke-width="0.7"/>
<line x1="98.79" y1="354.14" x2="98.79" y2="356.34" stroke="#ad2a42" stroke-width="0.7"/>
<line x1="103.48" y1="355.12" x2="103.48" y2="357.32" stroke="#ad2a42" stroke-width="0.7"/>
<line x1="106.35" y1="355.98" x2="106.35" y2="358.18" stroke="#ad2a42" stroke-width="0.7"/>
<line x1="112.64" y1="357.78" x2="112.64" y2="359.98" stroke="#ad2a42" stroke-width="0.7"/>
<line x1="118.59" y1="359.25" x2="118.59" y2="361.45" stroke="#ad2a42" stroke-width="0.7"/>
<line x1="122.71" y1="360.66" x2="122.71" y2="362.86" stroke="#ad2a42" stroke-width="0.7"/>
<line x1="128.00" y1="362.22" x2="128.00" y2="364.42" stroke="#ad2a42" stroke-width="0.7"/>
<line x1="132.78" y1="363.21" x2="132.78" y2="365.41" stroke="#ad2a42" stroke-width="0.7"/>
<line x1="136.70" y1="363.83" x2="136.70" y2="366.03" stroke="#ad2a42" stroke-width="0.7"/>
<line x1="140.71" y1="364.40" x2="140.71" y2="366.60" stroke="#ad2a42" stroke-width="0.7"/>
<line x1="143.84" y1="364.75" x2="143.84" y2="366.95" stroke="#ad2a42" stroke-width="0.7"/>
<line x1="149.47" y1="365.34" x2="149.47" y2="367.54" stroke="#ad2a42" stroke-width="0.7"/>
<line x1="152.29" y1="365.63" x2="152.29" y2="367.83" stroke="#ad2a42" stroke-width="0.7"/>
<line x1="155.27" y1="365.94" x2="155.27" y2="368.14" stroke="#ad2a42" stroke-width="0.7"/>
<line x1="158.09" y1="366.24" x2="158.09" y2="368.44" stroke="#ad2a42" stroke-width="0.7"/>
<line x1="161.20" y1="366.59" x2="161.20" y2="368.79" stroke="#ad2a42" stroke-width="0.7"/>
<line x1="164.20" y1="366.92" x2="164.20" y2="369.12" stroke="#ad2a42" stroke-width="0.7"/>
<line x1="167.78" y1="367.25" x2="167.78" y2="369.45" stroke="#ad2a42" stroke-width="0.7"/>
<line x1="173.81" y1="367.82" x2="173.81" y2="370.02" stroke="#ad2a42" stroke-width="0.7"/>
<line x1="179.70" y1="368.44" x2="179.70" y2="370.64" stroke="#ad2a42" stroke-width="0.7"/>
<line x1="183.44" y1="368.94" x2="183.44" y2="371.14" stroke="#ad2a42" stroke-width="0.7"/>
<line x1="187.59" y1="370.09" x2="187.59" y2="372.29" stroke="#ad2a42" stroke-width="0.7"/>
<line x1="192.18" y1="370.28" x2="192.18" y2="372.48" stroke="#ad2a42" stroke-width="0.7"/>
<line x1="196.91" y1="370.51" x2="196.91" y2="372.71" stroke="#ad2a42" stroke-width="0.7"/>
<line x1="200.30" y1="370.69" x2="200.30" y2="372.89" stroke="#ad2a42" stroke-width="0.7"/>
<line x1="205.14" y1="370.91" x2="205.14" y2="373.11" stroke="#ad2a42" stroke-width="0.7"/>
<line x1="211.07" y1="371.17" x2="211.07" y2="373.37" stroke="#ad2a42" stroke-width="0.7"/>
<line x1="216.93" y1="371.60" x2="216.93" y2="373.80" stroke="#ad2a42" stroke-width="0.7"/>
<line x1="221.69" y1="371.99" x2="221.69" y2="374.19" stroke="#ad2a42" stroke-width="0.7"/>
<line x1="227.43" y1="372.38" x2="227.43" y2="374.58" stroke="#ad2a42" stroke-width="0.7"/>
<line x1="233.72" y1="372.81" x2="233.72" y2="375.01" stroke="#ad2a42" stroke-width="0.7"/>
<line x1="236.53" y1="373.00" x2="236.53" y2="375.20" stroke="#ad2a42" stroke-width="0.7"/>
<line x1="241.49" y1="373.34" x2="241.49" y2="375.54" stroke="#ad2a42" stroke-width="0.7"/>
<line x1="247.59" y1="373.76" x2="247.59" y2="375.96" stroke="#ad2a42" stroke-width="0.7"/>
<line x1="251.76" y1="374.08" x2="251.76" y2="376.28" stroke="#ad2a42" stroke-width="0.7"/>
<line x1="183.70" y1="368.50" x2="183.70" y2="371.30" stroke="#ad2a42" stroke-width="0.9"/>
<line x1="208.50" y1="371.20" x2="208.50" y2="374.00" stroke="#ad2a42" stroke-width="0.9"/>
<line x1="240.60" y1="373.00" x2="240.60" y2="375.80" stroke="#ad2a42" stroke-width="0.9"/>
<text x="130.20" y="308.10" font-size="4.5" text-anchor="middle" fill="#2a2a2a" textLength="34.6" lengthAdjust="spacingAndGlyphs" stroke="#2a2a2a" stroke-width="0.14">Induction Fail Def</text>
<text x="168.60" y="308.10" font-size="4.5" text-anchor="middle" fill="#2a2a2a" textLength="24.8" lengthAdjust="spacingAndGlyphs" stroke="#2a2a2a" stroke-width="0.14">Events/Total</text>
<text x="200.30" y="308.10" font-size="4.5" text-anchor="middle" fill="#2a2a2a" textLength="22.2" lengthAdjust="spacingAndGlyphs" stroke="#2a2a2a" stroke-width="0.14">Time-Point</text>
<text x="234.80" y="308.10" font-size="4.5" text-anchor="middle" fill="#2a2a2a" textLength="31.7" lengthAdjust="spacingAndGlyphs" stroke="#2a2a2a" stroke-width="0.14">KM Est (95% CI)</text>
<line x1="93.80" y1="311.90" x2="106.90" y2="311.90" stroke="#7aba5c" stroke-width="1.1"/>
<text x="130.20" y="313.50" font-size="4.5" text-anchor="middle" fill="#2a2a2a" stroke="#2a2a2a" stroke-width="0.14">D1</text>
<text x="168.60" y="313.50" font-size="4.5" text-anchor="middle" fill="#2a2a2a" stroke="#2a2a2a" stroke-width="0.14">541/717</text>
<text x="200.30" y="313.50" font-size="4.5" text-anchor="middle" fill="#2a2a2a" textLength="21.1" lengthAdjust="spacingAndGlyphs" stroke="#2a2a2a" stroke-width="0.14">12 Months</text>
<text x="234.80" y="313.50" font-size="4.5" text-anchor="middle" fill="#2a2a2a" textLength="33.2" lengthAdjust="spacingAndGlyphs" stroke="#2a2a2a" stroke-width="0.14">37.1 (33.6-40.7%)</text>
<line x1="93.80" y1="318.68" x2="106.90" y2="318.68" stroke="#7aba5c" stroke-width="1.1" stroke-dasharray="2.9,1.7"/>
<text x="130.20" y="320.28" font-size="4.5" text-anchor="middle" fill="#2a2a2a" textLength="30.4" lengthAdjust="spacingAndGlyphs" stroke="#2a2a2a" stroke-width="0.14">D1, censor HCT</text>
<text x="168.60" y="320.28" font-size="4.5" text-anchor="middle" fill="#2a2a2a" stroke="#2a2a2a" stroke-width="0.14">474/717</text>
<text x="200.30" y="320.28" font-size="4.5" text-anchor="middle" fill="#2a2a2a" textLength="21.1" lengthAdjust="spacingAndGlyphs" stroke="#2a2a2a" stroke-width="0.14">12 Months</text>
<text x="234.80" y="320.28" font-size="4.5" text-anchor="middle" fill="#2a2a2a" textLength="33.2" lengthAdjust="spacingAndGlyphs" stroke="#2a2a2a" stroke-width="0.14">36.6 (32.6-40.5%)</text>
<line x1="93.80" y1="325.46" x2="106.90" y2="325.46" stroke="#5a70a2" stroke-width="1.1"/>
<text x="130.20" y="327.06" font-size="4.5" text-anchor="middle" fill="#2a2a2a" stroke="#2a2a2a" stroke-width="0.14">D2</text>
<text x="168.60" y="327.06" font-size="4.5" text-anchor="middle" fill="#2a2a2a" stroke="#2a2a2a" stroke-width="0.14">524/717</text>
<text x="200.30" y="327.06" font-size="4.5" text-anchor="middle" fill="#2a2a2a" textLength="21.1" lengthAdjust="spacingAndGlyphs" stroke="#2a2a2a" stroke-width="0.14">12 Months</text>
<text x="234.80" y="327.06" font-size="4.5" text-anchor="middle" fill="#2a2a2a" textLength="33.2" lengthAdjust="spacingAndGlyphs" stroke="#2a2a2a" stroke-width="0.14">39.5 (35.9-43.1%)</text>
<line x1="93.80" y1="332.24" x2="106.90" y2="332.24" stroke="#5a70a2" stroke-width="1.1" stroke-dasharray="2.9,1.7"/>
<text x="130.20" y="333.84" font-size="4.5" text-anchor="middle" fill="#2a2a2a" textLength="30.4" lengthAdjust="spacingAndGlyphs" stroke="#2a2a2a" stroke-width="0.14">D2, censor HCT</text>
<text x="168.60" y="333.84" font-size="4.5" text-anchor="middle" fill="#2a2a2a" stroke="#2a2a2a" stroke-width="0.14">459/717</text>
<text x="200.30" y="333.84" font-size="4.5" text-anchor="middle" fill="#2a2a2a" textLength="21.1" lengthAdjust="spacingAndGlyphs" stroke="#2a2a2a" stroke-width="0.14">12 Months</text>
<text x="234.80" y="333.84" font-size="4.5" text-anchor="middle" fill="#2a2a2a" textLength="33.2" lengthAdjust="spacingAndGlyphs" stroke="#2a2a2a" stroke-width="0.14">38.3 (34.3-42.3%)</text>
<line x1="93.80" y1="339.02" x2="106.90" y2="339.02" stroke="#b84a5e" stroke-width="1.1"/>
<text x="130.20" y="340.62" font-size="4.5" text-anchor="middle" fill="#2a2a2a" stroke="#2a2a2a" stroke-width="0.14">D3</text>
<text x="168.60" y="340.62" font-size="4.5" text-anchor="middle" fill="#2a2a2a" stroke="#2a2a2a" stroke-width="0.14">499/717</text>
<text x="200.30" y="340.62" font-size="4.5" text-anchor="middle" fill="#2a2a2a" textLength="21.1" lengthAdjust="spacingAndGlyphs" stroke="#2a2a2a" stroke-width="0.14">12 Months</text>
<text x="234.80" y="340.62" font-size="4.5" text-anchor="middle" fill="#2a2a2a" textLength="33.2" lengthAdjust="spacingAndGlyphs" stroke="#2a2a2a" stroke-width="0.14">45.6 (41.9-49.2%)</text>
<line x1="93.80" y1="345.80" x2="106.90" y2="345.80" stroke="#b84a5e" stroke-width="1.1" stroke-dasharray="2.9,1.7"/>
<text x="130.20" y="347.40" font-size="4.5" text-anchor="middle" fill="#2a2a2a" textLength="30.4" lengthAdjust="spacingAndGlyphs" stroke="#2a2a2a" stroke-width="0.14">D3, censor HCT</text>
<text x="168.60" y="347.40" font-size="4.5" text-anchor="middle" fill="#2a2a2a" stroke="#2a2a2a" stroke-width="0.14">416/717</text>
<text x="200.30" y="347.40" font-size="4.5" text-anchor="middle" fill="#2a2a2a" textLength="21.1" lengthAdjust="spacingAndGlyphs" stroke="#2a2a2a" stroke-width="0.14">12 Months</text>
<text x="234.80" y="347.40" font-size="4.5" text-anchor="middle" fill="#2a2a2a" textLength="33.2" lengthAdjust="spacingAndGlyphs" stroke="#2a2a2a" stroke-width="0.14">43.8 (39.5-48.0%)</text>
<text x="254.60" y="353.00" font-size="4.5" text-anchor="end" fill="#2a2a2a" textLength="18.0" lengthAdjust="spacingAndGlyphs" stroke="#2a2a2a" stroke-width="0.14">+ Censor</text>
<text x="265.60" y="29.80" font-size="10.0" text-anchor="start" fill="#2a2a2a" textLength="7.0" lengthAdjust="spacingAndGlyphs" stroke="#222" stroke-width="0.3">D</text>
<text x="276.20" y="30.50" font-size="6.6" text-anchor="start" fill="#2a2a2a" textLength="32.2" lengthAdjust="spacingAndGlyphs" stroke="#2a2a2a" stroke-width="0.05">Study 10801</text>
<text x="0" y="0" font-size="8.0" text-anchor="middle" fill="#2a2a2a" stroke="#2a2a2a" stroke-width="0.14" textLength="6.2" lengthAdjust="spacingAndGlyphs" transform="translate(273.10,111.85) rotate(-90)">%</text>
<text x="0" y="0" font-size="8.0" text-anchor="middle" fill="#2a2a2a" stroke="#2a2a2a" stroke-width="0.14" textLength="14.9" lengthAdjust="spacingAndGlyphs" transform="translate(273.10,98.60) rotate(-90)">alive</text>
<text x="0" y="0" font-size="8.0" text-anchor="middle" fill="#2a2a2a" stroke="#2a2a2a" stroke-width="0.14" textLength="12.1" lengthAdjust="spacingAndGlyphs" transform="translate(273.10,81.80) rotate(-90)">and</text>
<text x="0" y="0" font-size="8.0" text-anchor="middle" fill="#2a2a2a" stroke="#2a2a2a" stroke-width="0.14" textLength="36.8" lengthAdjust="spacingAndGlyphs" transform="translate(273.10,54.55) rotate(-90)">event-free</text>
<line x1="294.40" y1="34.90" x2="294.40" y2="118.10" stroke="#3a3a3a" stroke-width="1.0"/>
<line x1="293.90" y1="117.60" x2="513.10" y2="117.60" stroke="#3a3a3a" stroke-width="1.4"/>
<line x1="291.10" y1="114.40" x2="294.40" y2="114.40" stroke="#3a3a3a" stroke-width="0.9"/>
<text x="288.80" y="116.70" font-size="6.5" text-anchor="end" fill="#2a2a2a" textLength="3.1" lengthAdjust="spacingAndGlyphs" stroke="#2a2a2a" stroke-width="0.18">0</text>
<line x1="291.10" y1="106.66" x2="294.40" y2="106.66" stroke="#3a3a3a" stroke-width="0.9"/>
<text x="288.80" y="108.96" font-size="6.5" text-anchor="end" fill="#2a2a2a" textLength="6.2" lengthAdjust="spacingAndGlyphs" stroke="#2a2a2a" stroke-width="0.18">10</text>
<line x1="291.10" y1="98.92" x2="294.40" y2="98.92" stroke="#3a3a3a" stroke-width="0.9"/>
<text x="288.80" y="101.22" font-size="6.5" text-anchor="end" fill="#2a2a2a" textLength="6.2" lengthAdjust="spacingAndGlyphs" stroke="#2a2a2a" stroke-width="0.18">20</text>
<line x1="291.10" y1="91.18" x2="294.40" y2="91.18" stroke="#3a3a3a" stroke-width="0.9"/>
<text x="288.80" y="93.48" font-size="6.5" text-anchor="end" fill="#2a2a2a" textLength="6.2" lengthAdjust="spacingAndGlyphs" stroke="#2a2a2a" stroke-width="0.18">30</text>
<line x1="291.10" y1="83.44" x2="294.40" y2="83.44" stroke="#3a3a3a" stroke-width="0.9"/>
<text x="288.80" y="85.74" font-size="6.5" text-anchor="end" fill="#2a2a2a" textLength="6.2" lengthAdjust="spacingAndGlyphs" stroke="#2a2a2a" stroke-width="0.18">40</text>
<line x1="291.10" y1="75.70" x2="294.40" y2="75.70" stroke="#3a3a3a" stroke-width="0.9"/>
<text x="288.80" y="78.00" font-size="6.5" text-anchor="end" fill="#2a2a2a" textLength="6.2" lengthAdjust="spacingAndGlyphs" stroke="#2a2a2a" stroke-width="0.18">50</text>
<line x1="291.10" y1="67.96" x2="294.40" y2="67.96" stroke="#3a3a3a" stroke-width="0.9"/>
<text x="288.80" y="70.26" font-size="6.5" text-anchor="end" fill="#2a2a2a" textLength="6.2" lengthAdjust="spacingAndGlyphs" stroke="#2a2a2a" stroke-width="0.18">60</text>
<line x1="291.10" y1="60.22" x2="294.40" y2="60.22" stroke="#3a3a3a" stroke-width="0.9"/>
<text x="288.80" y="62.52" font-size="6.5" text-anchor="end" fill="#2a2a2a" textLength="6.2" lengthAdjust="spacingAndGlyphs" stroke="#2a2a2a" stroke-width="0.18">70</text>
<line x1="291.10" y1="52.48" x2="294.40" y2="52.48" stroke="#3a3a3a" stroke-width="0.9"/>
<text x="288.80" y="54.78" font-size="6.5" text-anchor="end" fill="#2a2a2a" textLength="6.2" lengthAdjust="spacingAndGlyphs" stroke="#2a2a2a" stroke-width="0.18">80</text>
<line x1="291.10" y1="44.74" x2="294.40" y2="44.74" stroke="#3a3a3a" stroke-width="0.9"/>
<text x="288.80" y="47.04" font-size="6.5" text-anchor="end" fill="#2a2a2a" textLength="6.2" lengthAdjust="spacingAndGlyphs" stroke="#2a2a2a" stroke-width="0.18">90</text>
<line x1="291.10" y1="37.00" x2="294.40" y2="37.00" stroke="#3a3a3a" stroke-width="0.9"/>
<text x="288.80" y="39.30" font-size="6.5" text-anchor="end" fill="#2a2a2a" textLength="9.3" lengthAdjust="spacingAndGlyphs" stroke="#2a2a2a" stroke-width="0.18">100</text>
<line x1="297.60" y1="117.60" x2="297.60" y2="120.50" stroke="#3a3a3a" stroke-width="0.9"/>
<text x="297.60" y="129.20" font-size="6.5" text-anchor="middle" fill="#2a2a2a" textLength="3.1" lengthAdjust="spacingAndGlyphs" stroke="#2a2a2a" stroke-width="0.18">0</text>
<line x1="324.10" y1="117.60" x2="324.10" y2="120.50" stroke="#3a3a3a" stroke-width="0.9"/>
<text x="324.10" y="129.20" font-size="6.5" text-anchor="middle" fill="#2a2a2a" textLength="3.1" lengthAdjust="spacingAndGlyphs" stroke="#2a2a2a" stroke-width="0.18">3</text>
<line x1="350.60" y1="117.60" x2="350.60" y2="120.50" stroke="#3a3a3a" stroke-width="0.9"/>
<text x="350.60" y="129.20" font-size="6.5" text-anchor="middle" fill="#2a2a2a" textLength="3.1" lengthAdjust="spacingAndGlyphs" stroke="#2a2a2a" stroke-width="0.18">6</text>
<line x1="377.10" y1="117.60" x2="377.10" y2="120.50" stroke="#3a3a3a" stroke-width="0.9"/>
<text x="377.10" y="129.20" font-size="6.5" text-anchor="middle" fill="#2a2a2a" textLength="3.1" lengthAdjust="spacingAndGlyphs" stroke="#2a2a2a" stroke-width="0.18">9</text>
<line x1="403.60" y1="117.60" x2="403.60" y2="120.50" stroke="#3a3a3a" stroke-width="0.9"/>
<text x="403.60" y="129.20" font-size="6.5" text-anchor="middle" fill="#2a2a2a" textLength="6.2" lengthAdjust="spacingAndGlyphs" stroke="#2a2a2a" stroke-width="0.18">12</text>
<line x1="430.10" y1="117.60" x2="430.10" y2="120.50" stroke="#3a3a3a" stroke-width="0.9"/>
<text x="430.10" y="129.20" font-size="6.5" text-anchor="middle" fill="#2a2a2a" textLength="6.2" lengthAdjust="spacingAndGlyphs" stroke="#2a2a2a" stroke-width="0.18">15</text>
<line x1="456.60" y1="117.60" x2="456.60" y2="120.50" stroke="#3a3a3a" stroke-width="0.9"/>
<text x="456.60" y="129.20" font-size="6.5" text-anchor="middle" fill="#2a2a2a" textLength="6.2" lengthAdjust="spacingAndGlyphs" stroke="#2a2a2a" stroke-width="0.18">18</text>
<line x1="483.10" y1="117.60" x2="483.10" y2="120.50" stroke="#3a3a3a" stroke-width="0.9"/>
<text x="483.10" y="129.20" font-size="6.5" text-anchor="middle" fill="#2a2a2a" textLength="6.2" lengthAdjust="spacingAndGlyphs" stroke="#2a2a2a" stroke-width="0.18">21</text>
<line x1="509.60" y1="117.60" x2="509.60" y2="120.50" stroke="#3a3a3a" stroke-width="0.9"/>
<text x="509.60" y="129.20" font-size="6.5" text-anchor="middle" fill="#2a2a2a" textLength="6.2" lengthAdjust="spacingAndGlyphs" stroke="#2a2a2a" stroke-width="0.18">24</text>
<text x="404.10" y="140.80" font-size="8.6" text-anchor="middle" fill="#2a2a2a" textLength="70.2" lengthAdjust="spacingAndGlyphs" stroke="#222" stroke-width="0.25">Follow-up (months)</text>
<path d="M297.70,37.70 L302.10,37.70 L304.70,41.40 L308.80,41.40 L309.80,43.40 L314.30,43.40 L314.80,48.00 L325.90,48.00 L327.30,49.30 L356.00,49.20 L382.90,49.20 L383.50,50.00 L388.30,52.00 L391.00,53.20 L401.00,53.20 L401.40,55.10 L421.60,55.10 L422.30,57.50 L429.00,58.80 L451.90,58.80 L452.60,60.30 L463.10,60.30 L463.80,61.50 L476.30,61.50 L477.50,63.30 L481.90,66.10 L510.60,66.10" fill="none" stroke="#6cab50" stroke-width="1.0" stroke-linejoin="round"/>
<path d="M297.70,37.70 L302.10,37.70 L304.70,41.40 L308.80,41.40 L309.80,43.40 L325.90,43.40 L327.30,45.00 L356.60,45.00 L357.30,46.30 L382.90,46.30 L383.50,47.70 L388.30,48.10 L391.00,50.40 L401.00,50.80 L401.40,51.80 L421.60,51.80 L422.30,55.10 L429.00,56.20 L451.90,56.20 L452.60,57.50 L463.10,57.50 L463.80,58.80 L476.30,58.80 L477.50,60.00 L481.90,63.10 L510.60,63.10" fill="none" stroke="#3f5c95" stroke-width="1.0" stroke-linejoin="round"/>
<path d="M297.70,37.70 L302.10,37.70 L304.70,41.40 L308.80,41.40 L309.80,42.40 L325.90,42.40 L327.30,43.90 L356.00,44.10 L356.60,45.40 L382.90,45.40 L383.50,47.20 L388.30,47.20 L389.60,48.50 L392.30,49.40 L400.80,49.40 L401.40,50.50 L421.60,50.50 L422.30,53.50 L427.70,53.50 L429.00,54.50 L451.90,54.50 L452.60,56.30 L462.50,56.30 L463.80,57.50 L476.30,57.50 L477.50,58.80 L481.30,61.30 L482.50,61.90 L510.60,61.90" fill="none" stroke="#ad2a42" stroke-width="1.0" stroke-linejoin="round"/>
<line x1="313.80" y1="41.00" x2="313.80" y2="43.80" stroke="#ad2a42" stroke-width="0.9"/>
<line x1="326.00" y1="41.80" x2="326.00" y2="44.60" stroke="#ad2a42" stroke-width="0.9"/>
<line x1="356.60" y1="43.40" x2="356.60" y2="46.20" stroke="#ad2a42" stroke-width="0.9"/>
<line x1="375.50" y1="44.00" x2="375.50" y2="46.80" stroke="#ad2a42" stroke-width="0.9"/>
<line x1="313.80" y1="46.60" x2="313.80" y2="49.40" stroke="#6cab50" stroke-width="0.9"/>
<line x1="326.00" y1="47.80" x2="326.00" y2="50.60" stroke="#6cab50" stroke-width="0.9"/>
<line x1="357.30" y1="47.80" x2="357.30" y2="50.60" stroke="#6cab50" stroke-width="0.9"/>
<line x1="375.50" y1="47.80" x2="375.50" y2="50.60" stroke="#6cab50" stroke-width="0.9"/>
<line x1="402.00" y1="49.10" x2="402.00" y2="51.90" stroke="#ad2a42" stroke-width="0.9"/>
<line x1="437.00" y1="53.10" x2="437.00" y2="55.90" stroke="#ad2a42" stroke-width="0.9"/>
<line x1="465.00" y1="56.10" x2="465.00" y2="58.90" stroke="#ad2a42" stroke-width="0.9"/>
<line x1="495.00" y1="60.50" x2="495.00" y2="63.30" stroke="#ad2a42" stroke-width="0.9"/>
<line x1="508.00" y1="60.50" x2="508.00" y2="63.30" stroke="#ad2a42" stroke-width="0.9"/>
<text x="337.60" y="68.40" font-size="4.5" text-anchor="middle" fill="#2a2a2a" textLength="34.6" lengthAdjust="spacingAndGlyphs" stroke="#2a2a2a" stroke-width="0.14">Induction Fail Def</text>
<text x="376.00" y="68.40" font-size="4.5" text-anchor="middle" fill="#2a2a2a" textLength="24.8" lengthAdjust="spacingAndGlyphs" stroke="#2a2a2a" stroke-width="0.14">Events/Total</text>
<text x="407.70" y="68.40" font-size="4.5" text-anchor="middle" fill="#2a2a2a" textLength="22.2" lengthAdjust="spacingAndGlyphs" stroke="#2a2a2a" stroke-width="0.14">Time-Point</text>
<text x="442.20" y="68.40" font-size="4.5" text-anchor="middle" fill="#2a2a2a" textLength="31.7" lengthAdjust="spacingAndGlyphs" stroke="#2a2a2a" stroke-width="0.14">KM Est (95% CI)</text>
<line x1="301.20" y1="72.20" x2="314.30" y2="72.20" stroke="#7aba5c" stroke-width="1.1"/>
<text x="337.60" y="73.80" font-size="4.5" text-anchor="middle" fill="#2a2a2a" stroke="#2a2a2a" stroke-width="0.14">D1</text>
<text x="376.00" y="73.80" font-size="4.5" text-anchor="middle" fill="#2a2a2a" stroke="#2a2a2a" stroke-width="0.14">22/61</text>
<text x="407.70" y="73.80" font-size="4.5" text-anchor="middle" fill="#2a2a2a" textLength="21.1" lengthAdjust="spacingAndGlyphs" stroke="#2a2a2a" stroke-width="0.14">12 Months</text>
<text x="442.20" y="73.80" font-size="4.5" text-anchor="middle" fill="#2a2a2a" textLength="33.2" lengthAdjust="spacingAndGlyphs" stroke="#2a2a2a" stroke-width="0.14">78.0 (65.3-86.6%)</text>
<line x1="301.20" y1="78.98" x2="314.30" y2="78.98" stroke="#7aba5c" stroke-width="1.1" stroke-dasharray="2.9,1.7"/>
<text x="337.60" y="80.58" font-size="4.5" text-anchor="middle" fill="#2a2a2a" textLength="30.4" lengthAdjust="spacingAndGlyphs" stroke="#2a2a2a" stroke-width="0.14">D1, censor HCT</text>
<text x="376.00" y="80.58" font-size="4.5" text-anchor="middle" fill="#2a2a2a" stroke="#2a2a2a" stroke-width="0.14">21/61</text>
<text x="407.70" y="80.58" font-size="4.5" text-anchor="middle" fill="#2a2a2a" textLength="21.1" lengthAdjust="spacingAndGlyphs" stroke="#2a2a2a" stroke-width="0.14">12 Months</text>
<text x="442.20" y="80.58" font-size="4.5" text-anchor="middle" fill="#2a2a2a" textLength="33.2" lengthAdjust="spacingAndGlyphs" stroke="#2a2a2a" stroke-width="0.14">77.7 (64.6-86.4%)</text>
<line x1="301.20" y1="85.76" x2="314.30" y2="85.76" stroke="#5a70a2" stroke-width="1.1"/>
<text x="337.60" y="87.36" font-size="4.5" text-anchor="middle" fill="#2a2a2a" stroke="#2a2a2a" stroke-width="0.14">D2</text>
<text x="376.00" y="87.36" font-size="4.5" text-anchor="middle" fill="#2a2a2a" stroke="#2a2a2a" stroke-width="0.14">20/61</text>
<text x="407.70" y="87.36" font-size="4.5" text-anchor="middle" fill="#2a2a2a" textLength="21.1" lengthAdjust="spacingAndGlyphs" stroke="#2a2a2a" stroke-width="0.14">12 Months</text>
<text x="442.20" y="87.36" font-size="4.5" text-anchor="middle" fill="#2a2a2a" textLength="33.2" lengthAdjust="spacingAndGlyphs" stroke="#2a2a2a" stroke-width="0.14">81.4 (68.9-89.2%)</text>
<line x1="301.20" y1="92.54" x2="314.30" y2="92.54" stroke="#5a70a2" stroke-width="1.1" stroke-dasharray="2.9,1.7"/>
<text x="337.60" y="94.14" font-size="4.5" text-anchor="middle" fill="#2a2a2a" textLength="30.4" lengthAdjust="spacingAndGlyphs" stroke="#2a2a2a" stroke-width="0.14">D2, censor HCT</text>
<text x="376.00" y="94.14" font-size="4.5" text-anchor="middle" fill="#2a2a2a" stroke="#2a2a2a" stroke-width="0.14">19/61</text>
<text x="407.70" y="94.14" font-size="4.5" text-anchor="middle" fill="#2a2a2a" textLength="21.1" lengthAdjust="spacingAndGlyphs" stroke="#2a2a2a" stroke-width="0.14">12 Months</text>
<text x="442.20" y="94.14" font-size="4.5" text-anchor="middle" fill="#2a2a2a" textLength="33.2" lengthAdjust="spacingAndGlyphs" stroke="#2a2a2a" stroke-width="0.14">81.0 (68.3-89.0%)</text>
<line x1="301.20" y1="99.32" x2="314.30" y2="99.32" stroke="#b84a5e" stroke-width="1.1"/>
<text x="337.60" y="100.92" font-size="4.5" text-anchor="middle" fill="#2a2a2a" stroke="#2a2a2a" stroke-width="0.14">D3</text>
<text x="376.00" y="100.92" font-size="4.5" text-anchor="middle" fill="#2a2a2a" stroke="#2a2a2a" stroke-width="0.14">19/61</text>
<text x="407.70" y="100.92" font-size="4.5" text-anchor="middle" fill="#2a2a2a" textLength="21.1" lengthAdjust="spacingAndGlyphs" stroke="#2a2a2a" stroke-width="0.14">12 Months</text>
<text x="442.20" y="100.92" font-size="4.5" text-anchor="middle" fill="#2a2a2a" textLength="33.2" lengthAdjust="spacingAndGlyphs" stroke="#2a2a2a" stroke-width="0.14">83.0 (70.7-90.5%)</text>
<line x1="301.20" y1="106.10" x2="314.30" y2="106.10" stroke="#b84a5e" stroke-width="1.1" stroke-dasharray="2.9,1.7"/>
<text x="337.60" y="107.70" font-size="4.5" text-anchor="middle" fill="#2a2a2a" textLength="30.4" lengthAdjust="spacingAndGlyphs" stroke="#2a2a2a" stroke-width="0.14">D3, censor HCT</text>
<text x="376.00" y="107.70" font-size="4.5" text-anchor="middle" fill="#2a2a2a" stroke="#2a2a2a" stroke-width="0.14">18/61</text>
<text x="407.70" y="107.70" font-size="4.5" text-anchor="middle" fill="#2a2a2a" textLength="21.1" lengthAdjust="spacingAndGlyphs" stroke="#2a2a2a" stroke-width="0.14">12 Months</text>
<text x="442.20" y="107.70" font-size="4.5" text-anchor="middle" fill="#2a2a2a" textLength="33.2" lengthAdjust="spacingAndGlyphs" stroke="#2a2a2a" stroke-width="0.14">82.7 (70.3-90.3%)</text>
<text x="462.00" y="113.80" font-size="4.5" text-anchor="end" fill="#2a2a2a" textLength="18.0" lengthAdjust="spacingAndGlyphs" stroke="#2a2a2a" stroke-width="0.14">+ Censor</text>
<text x="265.60" y="164.90" font-size="10.0" text-anchor="start" fill="#2a2a2a" textLength="4.9" lengthAdjust="spacingAndGlyphs" stroke="#222" stroke-width="0.3">E</text>
<text x="274.10" y="164.90" font-size="6.6" text-anchor="start" fill="#2a2a2a" textLength="32.2" lengthAdjust="spacingAndGlyphs" stroke="#2a2a2a" stroke-width="0.05">Study 11001</text>
<text x="0" y="0" font-size="8.0" text-anchor="middle" fill="#2a2a2a" stroke="#2a2a2a" stroke-width="0.14" textLength="6.2" lengthAdjust="spacingAndGlyphs" transform="translate(273.10,257.00) rotate(-90)">%</text>
<text x="0" y="0" font-size="8.0" text-anchor="middle" fill="#2a2a2a" stroke="#2a2a2a" stroke-width="0.14" textLength="14.9" lengthAdjust="spacingAndGlyphs" transform="translate(273.10,243.75) rotate(-90)">alive</text>
<text x="0" y="0" font-size="8.0" text-anchor="middle" fill="#2a2a2a" stroke="#2a2a2a" stroke-width="0.14" textLength="12.1" lengthAdjust="spacingAndGlyphs" transform="translate(273.10,226.95) rotate(-90)">and</text>
<text x="0" y="0" font-size="8.0" text-anchor="middle" fill="#2a2a2a" stroke="#2a2a2a" stroke-width="0.14" textLength="36.8" lengthAdjust="spacingAndGlyphs" transform="translate(273.10,199.70) rotate(-90)">event-free</text>
<line x1="294.40" y1="179.70" x2="294.40" y2="263.50" stroke="#3a3a3a" stroke-width="1.0"/>
<line x1="293.90" y1="263.00" x2="513.10" y2="263.00" stroke="#3a3a3a" stroke-width="1.4"/>
<line x1="291.10" y1="259.20" x2="294.40" y2="259.20" stroke="#3a3a3a" stroke-width="0.9"/>
<text x="288.80" y="261.50" font-size="6.5" text-anchor="end" fill="#2a2a2a" textLength="3.1" lengthAdjust="spacingAndGlyphs" stroke="#2a2a2a" stroke-width="0.18">0</text>
<line x1="291.10" y1="251.53" x2="294.40" y2="251.53" stroke="#3a3a3a" stroke-width="0.9"/>
<text x="288.80" y="253.83" font-size="6.5" text-anchor="end" fill="#2a2a2a" textLength="6.2" lengthAdjust="spacingAndGlyphs" stroke="#2a2a2a" stroke-width="0.18">10</text>
<line x1="291.10" y1="243.86" x2="294.40" y2="243.86" stroke="#3a3a3a" stroke-width="0.9"/>
<text x="288.80" y="246.16" font-size="6.5" text-anchor="end" fill="#2a2a2a" textLength="6.2" lengthAdjust="spacingAndGlyphs" stroke="#2a2a2a" stroke-width="0.18">20</text>
<line x1="291.10" y1="236.19" x2="294.40" y2="236.19" stroke="#3a3a3a" stroke-width="0.9"/>
<text x="288.80" y="238.49" font-size="6.5" text-anchor="end" fill="#2a2a2a" textLength="6.2" lengthAdjust="spacingAndGlyphs" stroke="#2a2a2a" stroke-width="0.18">30</text>
<line x1="291.10" y1="228.52" x2="294.40" y2="228.52" stroke="#3a3a3a" stroke-width="0.9"/>
<text x="288.80" y="230.82" font-size="6.5" text-anchor="end" fill="#2a2a2a" textLength="6.2" lengthAdjust="spacingAndGlyphs" stroke="#2a2a2a" stroke-width="0.18">40</text>
<line x1="291.10" y1="220.85" x2="294.40" y2="220.85" stroke="#3a3a3a" stroke-width="0.9"/>
<text x="288.80" y="223.15" font-size="6.5" text-anchor="end" fill="#2a2a2a" textLength="6.2" lengthAdjust="spacingAndGlyphs" stroke="#2a2a2a" stroke-width="0.18">50</text>
<line x1="291.10" y1="213.18" x2="294.40" y2="213.18" stroke="#3a3a3a" stroke-width="0.9"/>
<text x="288.80" y="215.48" font-size="6.5" text-anchor="end" fill="#2a2a2a" textLength="6.2" lengthAdjust="spacingAndGlyphs" stroke="#2a2a2a" stroke-width="0.18">60</text>
<line x1="291.10" y1="205.51" x2="294.40" y2="205.51" stroke="#3a3a3a" stroke-width="0.9"/>
<text x="288.80" y="207.81" font-size="6.5" text-anchor="end" fill="#2a2a2a" textLength="6.2" lengthAdjust="spacingAndGlyphs" stroke="#2a2a2a" stroke-width="0.18">70</text>
<line x1="291.10" y1="197.84" x2="294.40" y2="197.84" stroke="#3a3a3a" stroke-width="0.9"/>
<text x="288.80" y="200.14" font-size="6.5" text-anchor="end" fill="#2a2a2a" textLength="6.2" lengthAdjust="spacingAndGlyphs" stroke="#2a2a2a" stroke-width="0.18">80</text>
<line x1="291.10" y1="190.17" x2="294.40" y2="190.17" stroke="#3a3a3a" stroke-width="0.9"/>
<text x="288.80" y="192.47" font-size="6.5" text-anchor="end" fill="#2a2a2a" textLength="6.2" lengthAdjust="spacingAndGlyphs" stroke="#2a2a2a" stroke-width="0.18">90</text>
<line x1="291.10" y1="182.50" x2="294.40" y2="182.50" stroke="#3a3a3a" stroke-width="0.9"/>
<text x="288.80" y="184.80" font-size="6.5" text-anchor="end" fill="#2a2a2a" textLength="9.3" lengthAdjust="spacingAndGlyphs" stroke="#2a2a2a" stroke-width="0.18">100</text>
<line x1="297.40" y1="263.00" x2="297.40" y2="265.90" stroke="#3a3a3a" stroke-width="0.9"/>
<text x="297.40" y="274.50" font-size="6.5" text-anchor="middle" fill="#2a2a2a" textLength="3.1" lengthAdjust="spacingAndGlyphs" stroke="#2a2a2a" stroke-width="0.18">0</text>
<line x1="323.92" y1="263.00" x2="323.92" y2="265.90" stroke="#3a3a3a" stroke-width="0.9"/>
<text x="323.92" y="274.50" font-size="6.5" text-anchor="middle" fill="#2a2a2a" textLength="3.1" lengthAdjust="spacingAndGlyphs" stroke="#2a2a2a" stroke-width="0.18">3</text>
<line x1="350.45" y1="263.00" x2="350.45" y2="265.90" stroke="#3a3a3a" stroke-width="0.9"/>
<text x="350.45" y="274.50" font-size="6.5" text-anchor="middle" fill="#2a2a2a" textLength="3.1" lengthAdjust="spacingAndGlyphs" stroke="#2a2a2a" stroke-width="0.18">6</text>
<line x1="376.98" y1="263.00" x2="376.98" y2="265.90" stroke="#3a3a3a" stroke-width="0.9"/>
<text x="376.98" y="274.50" font-size="6.5" text-anchor="middle" fill="#2a2a2a" textLength="3.1" lengthAdjust="spacingAndGlyphs" stroke="#2a2a2a" stroke-width="0.18">9</text>
<line x1="403.50" y1="263.00" x2="403.50" y2="265.90" stroke="#3a3a3a" stroke-width="0.9"/>
<text x="403.50" y="274.50" font-size="6.5" text-anchor="middle" fill="#2a2a2a" textLength="6.2" lengthAdjust="spacingAndGlyphs" stroke="#2a2a2a" stroke-width="0.18">12</text>
<line x1="430.02" y1="263.00" x2="430.02" y2="265.90" stroke="#3a3a3a" stroke-width="0.9"/>
<text x="430.02" y="274.50" font-size="6.5" text-anchor="middle" fill="#2a2a2a" textLength="6.2" lengthAdjust="spacingAndGlyphs" stroke="#2a2a2a" stroke-width="0.18">15</text>
<line x1="456.55" y1="263.00" x2="456.55" y2="265.90" stroke="#3a3a3a" stroke-width="0.9"/>
<text x="456.55" y="274.50" font-size="6.5" text-anchor="middle" fill="#2a2a2a" textLength="6.2" lengthAdjust="spacingAndGlyphs" stroke="#2a2a2a" stroke-width="0.18">18</text>
<line x1="483.08" y1="263.00" x2="483.08" y2="265.90" stroke="#3a3a3a" stroke-width="0.9"/>
<text x="483.08" y="274.50" font-size="6.5" text-anchor="middle" fill="#2a2a2a" textLength="6.2" lengthAdjust="spacingAndGlyphs" stroke="#2a2a2a" stroke-width="0.18">21</text>
<line x1="509.60" y1="263.00" x2="509.60" y2="265.90" stroke="#3a3a3a" stroke-width="0.9"/>
<text x="509.60" y="274.50" font-size="6.5" text-anchor="middle" fill="#2a2a2a" textLength="6.2" lengthAdjust="spacingAndGlyphs" stroke="#2a2a2a" stroke-width="0.18">24</text>
<text x="404.00" y="286.00" font-size="8.6" text-anchor="middle" fill="#2a2a2a" textLength="70.2" lengthAdjust="spacingAndGlyphs" stroke="#222" stroke-width="0.25">Follow-up (months)</text>
<path d="M350.40,218.10 L350.80,221.20 L365.90,221.20 L366.80,223.10 L375.00,223.10 L375.50,225.30 L378.80,225.80 L379.80,227.20 L382.70,228.60 L384.60,229.60 L386.50,231.30 L388.00,232.90 L388.50,235.60 L389.40,238.10 L398.50,238.30 L400.80,241.20 L412.00,241.20 L413.00,243.20 L433.20,243.20 L435.20,245.80 L457.50,245.80 L458.80,249.10 L463.10,249.10 L464.50,251.60 L498.40,251.60 L499.10,254.00 L510.70,254.00" fill="none" stroke="#6cab50" stroke-width="1.1" stroke-linejoin="round" stroke-dasharray="2.4,1.6" stroke-dashoffset="0.8"/>
<path d="M350.40,218.10 L350.80,221.20 L365.90,221.20 L366.80,223.10 L375.00,223.10 L375.50,225.30 L378.80,225.80 L379.80,227.20 L382.70,228.60 L384.60,229.60 L386.50,231.30 L388.00,232.90 L388.50,235.60 L389.40,238.10 L398.50,238.30 L400.80,241.20 L412.00,241.20 L413.00,243.20 L433.20,243.20 L435.20,245.80 L457.50,245.80 L458.80,249.10 L463.10,249.10 L464.50,251.60 L498.40,251.60 L499.10,254.00 L510.70,254.00" fill="none" stroke="#ad2a42" stroke-width="1.1" stroke-linejoin="round" stroke-dasharray="2.4,1.6"/>
<path d="M298.40,182.50 L300.30,184.20 L301.50,185.30 L302.70,189.40 L304.40,191.10 L305.50,194.00 L307.30,196.30 L309.00,197.50 L311.30,198.60 L314.30,201.50 L314.80,209.40 L322.50,209.90 L326.30,210.40 L328.30,211.30 L336.00,210.90 L337.90,212.30 L339.80,214.20 L341.70,215.70 L348.50,215.70 L350.40,219.00 L351.30,221.40" fill="none" stroke="#6cab50" stroke-width="1.0" stroke-linejoin="round"/>
<path d="M298.40,182.50 L300.30,184.40 L301.50,186.00 L302.70,190.00 L304.40,192.00 L305.50,195.00 L307.30,197.30 L309.00,198.50 L311.30,199.40 L314.20,200.80 L316.50,202.70 L317.70,204.10" fill="none" stroke="#3f5c95" stroke-width="1.0" stroke-linejoin="round"/>
<path d="M298.40,182.50 L300.30,184.20 L301.50,185.30 L302.70,189.40 L304.40,191.10 L305.50,194.00 L307.30,196.30 L309.00,197.50 L311.30,198.60 L313.80,200.30 L315.80,202.20 L317.70,204.10 L321.10,204.10 L323.90,204.60 L325.40,205.60 L327.30,206.10 L329.20,207.50 L330.70,208.00 L334.00,208.50 L336.00,209.40 L337.90,211.30 L339.80,213.30 L341.70,214.20 L348.50,214.20 L349.40,215.20 L350.40,218.10 L350.80,219.50 L365.90,219.50 L366.80,220.90 L375.50,220.90 L376.00,222.20 L379.80,222.70 L380.80,223.60 L384.60,224.60 L385.60,225.30 L388.50,226.00 L389.40,228.90 L398.60,228.90 L400.00,232.40 L411.50,232.40 L413.10,233.70 L420.10,233.70 L421.10,235.10 L433.20,235.10 L435.20,236.60 L438.30,238.20 L450.10,238.20 L451.50,239.60 L458.00,239.60 L459.50,241.10 L463.10,241.10 L463.80,242.50 L497.70,242.50 L499.10,244.40 L510.70,244.40" fill="none" stroke="#ad2a42" stroke-width="1.0" stroke-linejoin="round"/>
<line x1="321.10" y1="202.70" x2="321.10" y2="205.50" stroke="#ad2a42" stroke-width="0.9"/>
<line x1="324.20" y1="203.20" x2="324.20" y2="206.00" stroke="#ad2a42" stroke-width="0.9"/>
<line x1="336.00" y1="208.00" x2="336.00" y2="210.80" stroke="#ad2a42" stroke-width="0.9"/>
<line x1="346.00" y1="212.80" x2="346.00" y2="215.60" stroke="#ad2a42" stroke-width="0.9"/>
<line x1="322.50" y1="208.50" x2="322.50" y2="211.30" stroke="#6cab50" stroke-width="0.9"/>
<line x1="325.00" y1="209.00" x2="325.00" y2="211.80" stroke="#6cab50" stroke-width="0.9"/>
<line x1="340.00" y1="212.80" x2="340.00" y2="215.60" stroke="#ad2a42" stroke-width="0.9"/>
<line x1="477.00" y1="241.10" x2="477.00" y2="243.90" stroke="#ad2a42" stroke-width="0.9"/>
<line x1="498.80" y1="241.10" x2="498.80" y2="243.90" stroke="#ad2a42" stroke-width="0.9"/>
<line x1="510.40" y1="243.00" x2="510.40" y2="245.80" stroke="#ad2a42" stroke-width="0.9"/>
<line x1="412.00" y1="239.80" x2="412.00" y2="242.60" stroke="#ad2a42" stroke-width="0.9"/>
<line x1="510.40" y1="252.60" x2="510.40" y2="255.40" stroke="#ad2a42" stroke-width="0.9"/>
<text x="387.20" y="168.20" font-size="4.5" text-anchor="middle" fill="#2a2a2a" textLength="34.6" lengthAdjust="spacingAndGlyphs" stroke="#2a2a2a" stroke-width="0.14">Induction Fail Def</text>
<text x="425.60" y="168.20" font-size="4.5" text-anchor="middle" fill="#2a2a2a" textLength="24.8" lengthAdjust="spacingAndGlyphs" stroke="#2a2a2a" stroke-width="0.14">Events/Total</text>
<text x="457.30" y="168.20" font-size="4.5" text-anchor="middle" fill="#2a2a2a" textLength="22.2" lengthAdjust="spacingAndGlyphs" stroke="#2a2a2a" stroke-width="0.14">Time-Point</text>
<text x="491.80" y="168.20" font-size="4.5" text-anchor="middle" fill="#2a2a2a" textLength="31.7" lengthAdjust="spacingAndGlyphs" stroke="#2a2a2a" stroke-width="0.14">KM Est (95% CI)</text>
<line x1="350.80" y1="172.00" x2="363.90" y2="172.00" stroke="#7aba5c" stroke-width="1.1"/>
<text x="387.20" y="173.60" font-size="4.5" text-anchor="middle" fill="#2a2a2a" stroke="#2a2a2a" stroke-width="0.14">D1</text>
<text x="425.60" y="173.60" font-size="4.5" text-anchor="middle" fill="#2a2a2a" stroke="#2a2a2a" stroke-width="0.14">43/54</text>
<text x="457.30" y="173.60" font-size="4.5" text-anchor="middle" fill="#2a2a2a" textLength="21.1" lengthAdjust="spacingAndGlyphs" stroke="#2a2a2a" stroke-width="0.14">12 Months</text>
<text x="491.80" y="173.60" font-size="4.5" text-anchor="middle" fill="#2a2a2a" textLength="33.2" lengthAdjust="spacingAndGlyphs" stroke="#2a2a2a" stroke-width="0.14">35.2 (22.8-47.8%)</text>
<line x1="350.80" y1="178.78" x2="363.90" y2="178.78" stroke="#7aba5c" stroke-width="1.1" stroke-dasharray="2.9,1.7"/>
<text x="387.20" y="180.38" font-size="4.5" text-anchor="middle" fill="#2a2a2a" textLength="30.4" lengthAdjust="spacingAndGlyphs" stroke="#2a2a2a" stroke-width="0.14">D1, censor HCT</text>
<text x="425.60" y="180.38" font-size="4.5" text-anchor="middle" fill="#2a2a2a" stroke="#2a2a2a" stroke-width="0.14">37/54</text>
<text x="457.30" y="180.38" font-size="4.5" text-anchor="middle" fill="#2a2a2a" textLength="21.1" lengthAdjust="spacingAndGlyphs" stroke="#2a2a2a" stroke-width="0.14">12 Months</text>
<text x="491.80" y="180.38" font-size="4.5" text-anchor="middle" fill="#2a2a2a" textLength="33.2" lengthAdjust="spacingAndGlyphs" stroke="#2a2a2a" stroke-width="0.14">24.7 (11.7-40.3%)</text>
<line x1="350.80" y1="185.56" x2="363.90" y2="185.56" stroke="#5a70a2" stroke-width="1.1"/>
<text x="387.20" y="187.16" font-size="4.5" text-anchor="middle" fill="#2a2a2a" stroke="#2a2a2a" stroke-width="0.14">D2</text>
<text x="425.60" y="187.16" font-size="4.5" text-anchor="middle" fill="#2a2a2a" stroke="#2a2a2a" stroke-width="0.14">43/54</text>
<text x="457.30" y="187.16" font-size="4.5" text-anchor="middle" fill="#2a2a2a" textLength="21.1" lengthAdjust="spacingAndGlyphs" stroke="#2a2a2a" stroke-width="0.14">12 Months</text>
<text x="491.80" y="187.16" font-size="4.5" text-anchor="middle" fill="#2a2a2a" textLength="33.2" lengthAdjust="spacingAndGlyphs" stroke="#2a2a2a" stroke-width="0.14">35.2 (22.8-47.8%)</text>
<line x1="350.80" y1="192.34" x2="363.90" y2="192.34" stroke="#5a70a2" stroke-width="1.1" stroke-dasharray="2.9,1.7"/>
<text x="387.20" y="193.94" font-size="4.5" text-anchor="middle" fill="#2a2a2a" textLength="30.4" lengthAdjust="spacingAndGlyphs" stroke="#2a2a2a" stroke-width="0.14">D2, censor HCT</text>
<text x="425.60" y="193.94" font-size="4.5" text-anchor="middle" fill="#2a2a2a" stroke="#2a2a2a" stroke-width="0.14">37/54</text>
<text x="457.30" y="193.94" font-size="4.5" text-anchor="middle" fill="#2a2a2a" textLength="21.1" lengthAdjust="spacingAndGlyphs" stroke="#2a2a2a" stroke-width="0.14">12 Months</text>
<text x="491.80" y="193.94" font-size="4.5" text-anchor="middle" fill="#2a2a2a" textLength="33.2" lengthAdjust="spacingAndGlyphs" stroke="#2a2a2a" stroke-width="0.14">23.7 (11.0-39.0%)</text>
<line x1="350.80" y1="199.12" x2="363.90" y2="199.12" stroke="#b84a5e" stroke-width="1.1"/>
<text x="387.20" y="200.72" font-size="4.5" text-anchor="middle" fill="#2a2a2a" stroke="#2a2a2a" stroke-width="0.14">D3</text>
<text x="425.60" y="200.72" font-size="4.5" text-anchor="middle" fill="#2a2a2a" stroke="#2a2a2a" stroke-width="0.14">43/54</text>
<text x="457.30" y="200.72" font-size="4.5" text-anchor="middle" fill="#2a2a2a" textLength="21.1" lengthAdjust="spacingAndGlyphs" stroke="#2a2a2a" stroke-width="0.14">12 Months</text>
<text x="491.80" y="200.72" font-size="4.5" text-anchor="middle" fill="#2a2a2a" textLength="33.2" lengthAdjust="spacingAndGlyphs" stroke="#2a2a2a" stroke-width="0.14">35.2 (22.8-47.8%)</text>
<line x1="350.80" y1="205.90" x2="363.90" y2="205.90" stroke="#b84a5e" stroke-width="1.1" stroke-dasharray="2.9,1.7"/>
<text x="387.20" y="207.50" font-size="4.5" text-anchor="middle" fill="#2a2a2a" textLength="30.4" lengthAdjust="spacingAndGlyphs" stroke="#2a2a2a" stroke-width="0.14">D3, censor HCT</text>
<text x="425.60" y="207.50" font-size="4.5" text-anchor="middle" fill="#2a2a2a" stroke="#2a2a2a" stroke-width="0.14">37/54</text>
<text x="457.30" y="207.50" font-size="4.5" text-anchor="middle" fill="#2a2a2a" textLength="21.1" lengthAdjust="spacingAndGlyphs" stroke="#2a2a2a" stroke-width="0.14">12 Months</text>
<text x="491.80" y="207.50" font-size="4.5" text-anchor="middle" fill="#2a2a2a" textLength="33.2" lengthAdjust="spacingAndGlyphs" stroke="#2a2a2a" stroke-width="0.14">23.7 (11.0-39.0%)</text>
<text x="511.60" y="213.00" font-size="4.5" text-anchor="end" fill="#2a2a2a" textLength="18.0" lengthAdjust="spacingAndGlyphs" stroke="#2a2a2a" stroke-width="0.14">+ Censor</text>
<text x="259.80" y="15.00" font-size="8.8" text-anchor="middle" fill="#2a2a2a" textLength="64.3" lengthAdjust="spacingAndGlyphs" stroke="#2a2a2a" stroke-width="0.18">Event-free Survival</text>
<g shape-rendering="crispEdges">
<rect x="0" y="1" width="520" height="1" fill="#c4c4bf"/>
<rect x="0" y="435" width="520" height="1" fill="#a8a8a3"/>
<rect x="1" y="0" width="1" height="437" fill="#8e8e89"/>
<rect x="518" y="0" width="1" height="437" fill="#b2b2ad"/>
<rect x="0" y="0" width="520" height="1" fill="#6b6b66"/>
<rect x="0" y="436" width="520" height="1" fill="#4d4d48"/>
<rect x="0" y="0" width="1" height="437" fill="#2f2f2a"/>
<rect x="519" y="0" width="1" height="437" fill="#66665f"/>
</g>
</svg>
</body></html>
